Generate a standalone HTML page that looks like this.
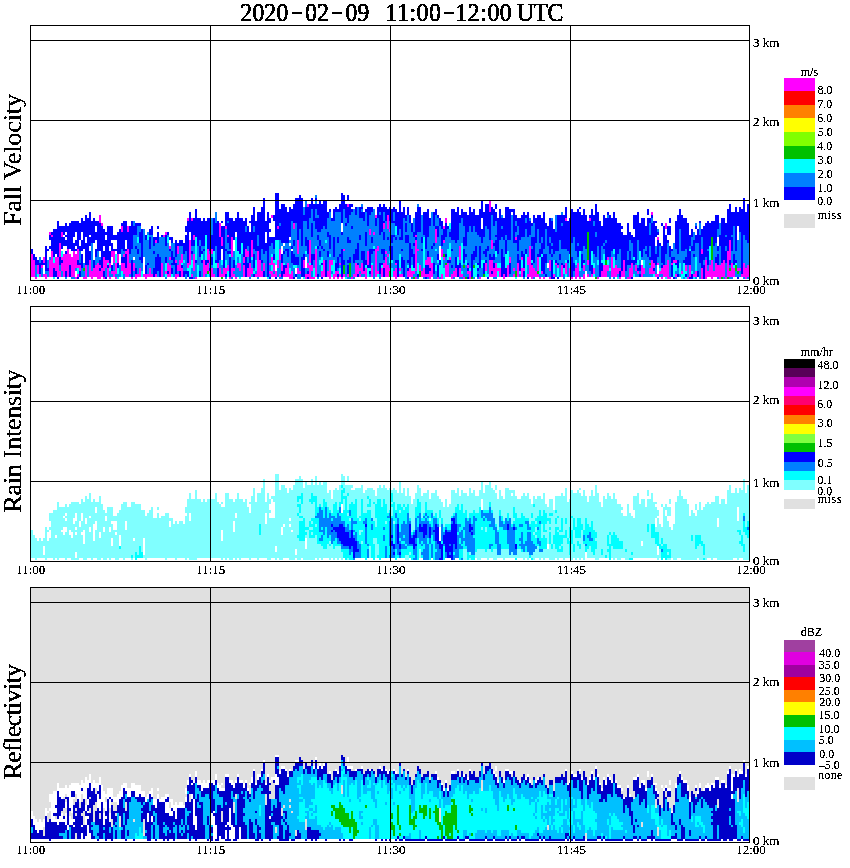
<!DOCTYPE html>
<html><head><meta charset="utf-8"><title>MRR 2020-02-09 11:00-12:00 UTC</title>
<style>
html,body{margin:0;padding:0;background:#fff;}
body{width:850px;height:868px;position:relative;overflow:hidden;font-family:"Liberation Serif",serif;color:#000;}
svg{position:absolute;left:0;top:0;}
#tx{position:absolute;left:0;top:0;width:850px;height:868px;}
.t{position:absolute;white-space:pre;line-height:1;margin:0;padding:0;}
.s{font-size:12px;filter:url(#thr2);}
.a{font-size:13px;filter:url(#thr2);}
.ttl{filter:url(#thr);font-size:24px;transform-origin:0 83.75%;transform:scaleY(1.05);-webkit-text-stroke:0.35px #000;}
.dash{position:absolute;top:12px;width:10px;height:2.4px;background:#000;}
.yl{filter:url(#thr);font-size:26px;transform-origin:0 0;transform:rotate(-90deg) translateX(-50%);-webkit-text-stroke:0.1px #000;}
.i{display:inline-block;}

</style></head><body>
<svg width="850" height="868" viewBox="0 0 850 868" shape-rendering="crispEdges">
<rect x="31" y="588" width="718" height="253" fill="#e0e0e0"/>
<rect x="31" y="841" width="718" height="1" fill="#fff"/>
<g>
<path fill="#ff00ff" d="M31 254h2v23h-2zm2 6h2v17h-2zm2 17h2v2h-2zm2 -12h2v9h-2zm2 9h2v3h-2zm2 -9h2v3h-2zm2 9h2v3h-2zm0 -17h2v6h-2zm2 17h2v5h-2zm4 -14h2v17h-2zm0 -28h2v3h-2zm2 19h2v26h-2zm0 -16h2v2h-2zm2 28h2v5h-2zm2 -6h2v14h-2zm2 0h2v20h-2zm2 14h2v6h-2zm0 -28h2v14h-2zm2 20h2v8h-2zm0 -6h2v3h-2zm0 -25h2v5h-2zm2 22h2v23h-2zm2 0h2v17h-2zm2 -5h2v28h-2zm2 5h2v11h-2zm2 3h2v20h-2zm2 -6h2v26h-2zm2 26h2v2h-2zm0 -23h2v14h-2zm2 20h2v3h-2zm0 -9h2v3h-2zm0 -16h2v11h-2zm2 16h2v6h-2zm4 12h2v2h-2zm2 -12h2v14h-2zm4 -5h2v17h-2zm2 11h2v8h-2zm2 -3h2v9h-2zm2 -3h2v12h-2zm2 -2h2v16h-2zm2 8h2v8h-2zm0 -6h2v3h-2zm0 -50h2v8h-2zm2 53h2v9h-2zm0 -45h2v3h-2zm2 54h2v2h-2zm0 -20h2v14h-2zm2 3h2v8h-2zm2 8h2v9h-2zm0 -8h2v3h-2zm2 17h2v2h-2zm0 -14h2v5h-2zm2 8h2v3h-2zm0 -20h2v6h-2zm2 20h2v6h-2zm0 -20h2v12h-2zm2 26h2v2h-2zm0 -14h2v11h-2zm2 -9h2v9h-2zm4 9h2v8h-2zm0 -37h2v6h-2zm2 37h2v11h-2zm0 -9h2v3h-2zm2 14h2v9h-2zm0 -17h2v3h-2zm2 -2h2v28h-2zm0 -23h2v6h-2zm2 37h2v11h-2zm2 14h2v2h-2zm2 -14h2v8h-2zm2 11h2v5h-2zm2 0h2v3h-2zm2 -6h2v9h-2zm4 6h2v3h-2zm2 0h2v5h-2zm2 0h2v3h-2zm2 -6h2v9h-2zm2 6h2v3h-2zm4 0h2v3h-2zm0 -34h2v3h-2zm6 23h2v14h-2zm2 -28h2v2h-2zm2 36h2v3h-2zm0 -39h2v3h-2zm2 42h2v3h-2zm0 -11h2v8h-2zm2 2h2v12h-2zm0 -8h2v3h-2zm0 -11h2v3h-2zm6 28h2v5h-2zm0 -14h2v3h-2zm2 14h2v3h-2zm0 -9h2v6h-2zm0 -19h2v8h-2zm2 14h2v11h-2zm2 8h2v9h-2zm0 -14h2v9h-2zm6 9h2v5h-2zm0 -45h2v3h-2zm2 22h2v25h-2zm2 34h2v3h-2zm0 -56h2v3h-2zm2 36h2v17h-2zm0 -19h2v5h-2zm2 42h2v2h-2zm8 -17h2v17h-2zm2 5h2v9h-2zm2 -2h2v8h-2zm0 -14h2v11h-2zm2 22h2v3h-2zm0 -17h2v9h-2zm2 14h2v9h-2zm0 -19h2v5h-2zm2 25h2v3h-2zm4 -11h2v5h-2zm2 5h2v9h-2zm0 -45h2v14h-2zm2 51h2v3h-2zm0 -37h2v9h-2zm2 31h2v9h-2zm2 0h2v6h-2zm0 -42h2v3h-2zm2 39h2v6h-2zm0 -30h2v2h-2zm2 42h2v2h-2zm2 -9h2v9h-2zm0 -31h2v20h-2zm2 37h2v3h-2zm0 -6h2v3h-2zm2 9h2v2h-2zm2 -14h2v5h-2zm2 0h2v8h-2zm4 2h2v12h-2zm0 -8h2v6h-2zm2 -8h2v8h-2zm2 19h2v9h-2zm0 -17h2v6h-2zm2 12h2v14h-2zm2 5h2v6h-2zm0 -28h2v17h-2zm4 34h2v3h-2zm2 -23h2v26h-2zm2 9h2v17h-2zm2 11h2v6h-2zm2 -8h2v8h-2zm6 8h2v3h-2zm0 -8h2v2h-2zm2 8h2v6h-2zm0 -14h2v8h-2zm0 -42h2v3h-2zm2 59h2v3h-2zm0 -11h2v8h-2zm2 8h2v6h-2zm2 -11h2v8h-2zm0 -34h2v3h-2zm2 48h2v3h-2zm0 -25h2v11h-2zm2 14h2v8h-2zm2 11h2v3h-2zm2 -6h2v9h-2zm2 -5h2v14h-2zm2 11h2v5h-2zm2 -3h2v8h-2zm2 -48h2v6h-2zm4 45h2v6h-2zm0 -28h2v14h-2zm2 31h2v3h-2zm4 -11h2v8h-2zm2 14h2v5h-2zm2 0h2v3h-2zm0 -11h2v5h-2zm0 -59h2v3h-2zm2 61h2v14h-2zm0 -25h2v23h-2zm2 37h2v2h-2zm0 -12h2v6h-2zm2 12h2v2h-2zm2 -28h2v28h-2zm6 22h2v6h-2zm2 -11h2v17h-2zm4 11h2v6h-2zm2 -11h2v19h-2zm2 0h2v5h-2zm2 14h2v5h-2zm2 -3h2v6h-2zm2 6h2v2h-2zm0 -6h2v3h-2zm2 3h2v3h-2zm0 -11h2v2h-2zm2 14h2v2h-2zm2 -3h2v3h-2zm0 -25h2v2h-2zm4 25h2v3h-2zm0 -70h2v3h-2zm4 73h2v2h-2zm2 -3h2v3h-2zm2 -11h2v14h-2zm2 2h2v9h-2zm2 9h2v3h-2zm0 -6h2v3h-2zm2 -5h2v11h-2zm2 8h2v3h-2zm2 -3h2v11h-2zm2 -17h2v14h-2zm2 -22h2v6h-2zm2 36h2v12h-2zm2 -33h2v3h-2zm2 17h2v28h-2zm0 -34h2v3h-2zm2 56h2v3h-2zm0 -25h2v5h-2zm4 22h2v9h-2zm2 -5h2v5h-2zm0 -40h2v6h-2zm2 34h2v20h-2zm0 -6h2v3h-2zm2 14h2v12h-2zm0 -11h2v3h-2zm0 -39h2v14h-2zm2 53h2v3h-2zm0 -39h2v3h-2zm4 42h2v6h-2zm2 -3h2v11h-2zm0 -5h2v2h-2zm4 11h2v3h-2zm0 -6h2v3h-2zm2 6h2v3h-2zm6 -3h2v6h-2zm2 -3h2v9h-2zm2 3h2v6h-2zm2 0h2v3h-2zm2 6h2v2h-2zm0 -37h2v31h-2zm0 -5h2v2h-2zm2 14h2v2h-2zm2 16h2v6h-2zm2 6h2v6h-2zm2 -3h2v9h-2zm2 6h2v3h-2zm0 -14h2v5h-2zm2 14h2v3h-2zm0 -17h2v8h-2zm2 14h2v8h-2zm0 -14h2v11h-2zm2 6h2v14h-2zm4 -34h2v14h-2zm2 48h2v2h-2zm4 -3h2v5h-2zm0 -25h2v8h-2zm2 8h2v3h-2zm0 -17h2v3h-2zm0 -14h2v3h-2zm2 39h2v12h-2zm0 -47h2v5h-2zm2 45h2v14h-2zm2 -6h2v3h-2zm2 17h2v5h-2zm2 -3h2v6h-2zm2 -3h2v9h-2zm4 0h2v9h-2zm0 -22h2v14h-2zm2 28h2v3h-2zm2 3h2v2h-2zm4 -6h2v3h-2zm0 -6h2v3h-2zm2 6h2v8h-2zm10 6h2v2h-2zm6 -14h2v8h-2zm4 -3h2v17h-2zm0 -59h2v11h-2zm2 73h2v3h-2zm0 -14h2v11h-2zm0 -20h2v9h-2zm2 28h2v9h-2zm2 -5h2v14h-2zm2 5h2v3h-2zm2 0h2v9h-2zm4 6h2v5h-2zm4 -9h2v12h-2zm2 -8h2v6h-2zm4 17h2v3h-2zm0 -6h2v3h-2zm2 -31h2v3h-2zm2 26h2v14h-2zm4 5h2v9h-2zm0 -11h2v3h-2zm2 11h2v3h-2zm4 6h2v3h-2zm0 -17h2v8h-2zm2 -11h2v31h-2zm2 19h2v14h-2zm2 3h2v9h-2zm2 3h2v6h-2zm2 3h2v3h-2zm0 -17h2v14h-2zm2 20h2v2h-2zm2 -6h2v3h-2zm2 6h2v2h-2zm6 0h2v2h-2zm0 -17h2v11h-2zm4 14h2v3h-2zm2 -11h2v2h-2zm2 2h2v3h-2zm4 0h2v12h-2zm4 -2h2v11h-2zm0 -45h2v3h-2zm4 50h2v9h-2zm2 9h2v2h-2zm4 -9h2v11h-2zm2 -5h2v14h-2zm2 14h2v2h-2zm4 -3h2v5h-2zm0 -9h2v6h-2zm4 9h2v3h-2zm0 -14h2v5h-2zm2 -42h2v3h-2zm2 56h2v3h-2zm2 -6h2v6h-2zm4 9h2v2h-2zm4 -6h2v6h-2zm2 -6h2v12h-2zm2 0h2v12h-2zm2 0h2v6h-2zm0 -8h2v3h-2zm4 0h2v20h-2zm2 11h2v9h-2zm2 -3h2v12h-2zm2 3h2v6h-2zm2 9h2v2h-2zm0 -9h2v3h-2zm2 3h2v6h-2zm2 -11h2v17h-2zm4 17h2v2h-2zm2 -9h2v11h-2zm2 -5h2v14h-2zm4 2h2v6h-2zm2 6h2v3h-2zm4 -6h2v12h-2zm2 3h2v6h-2zm6 0h2v6h-2zm2 -8h2v14h-2zm0 -48h2v3h-2zm2 59h2v3h-2zm0 -8h2v5h-2zm2 11h2v3h-2zm2 0h2v3h-2zm0 -11h2v2h-2zm0 -26h2v3h-2zm2 34h2v3h-2zm2 6h2v2h-2zm0 -9h2v6h-2zm2 -3h2v12h-2zm2 0h2v12h-2zm0 -42h2v6h-2zm2 37h2v19h-2zm2 17h2v2h-2zm2 -14h2v2h-2zm2 -3h2v3h-2zm2 14h2v3h-2zm0 -14h2v3h-2zm6 11h2v3h-2zm4 -6h2v6h-2zm2 12h2v2h-2zm2 -12h2v12h-2zm4 9h2v3h-2zm2 -3h2v6h-2zm6 -3h2v11h-2zm0 -19h2v5h-2zm4 11h2v19h-2zm2 11h2v6h-2zm2 -6h2v12h-2zm2 -5h2v19h-2zm2 11h2v6h-2zm2 -8h2v14h-2zm2 2h2v12h-2zm2 0h2v14h-2zm2 -2h2v14h-2zm2 -3h2v17h-2zm2 17h2v2h-2zm2 -26h2v26h-2zm2 20h2v6h-2zm0 -31h2v20h-2zm2 23h2v14h-2zm2 5h2v9h-2zm4 0h2v3h-2zm2 0h2v3h-2zm2 6h2v3h-2zm2 -11h2v14h-2zm2 5h2v11h-2zm2 -3h2v12h-2z"/>
<path fill="#0000ff" d="M31 249h2v5h-2zm2 5h2v6h-2zm2 3h2v8h-2zm2 3h2v5h-2zm2 3h2v11h-2zm2 -3h2v5h-2zm2 3h2v2h-2zm2 -17h2v25h-2zm2 22h2v3h-2zm0 -19h2v2h-2zm2 -3h2v3h-2zm0 -11h2v5h-2zm2 2h2v14h-2zm0 -5h2v3h-2zm2 36h2v9h-2zm0 -39h2v28h-2zm2 42h2v6h-2zm0 -42h2v25h-2zm2 48h2v2h-2zm0 -56h2v36h-2zm2 36h2v8h-2zm0 -31h2v17h-2zm2 34h2v3h-2zm0 -23h2v12h-2zm0 -11h2v6h-2zm2 11h2v9h-2zm0 -11h2v9h-2zm2 45h2v6h-2zm0 -20h2v3h-2zm0 -11h2v6h-2zm0 -5h2v2h-2zm0 -12h2v9h-2zm2 3h2v23h-2zm2 39h2v12h-2zm0 -42h2v26h-2zm2 -2h2v30h-2zm2 22h2v8h-2zm0 -22h2v16h-2zm2 28h2v2h-2zm0 -9h2v6h-2zm0 -19h2v11h-2zm2 56h2v2h-2zm0 -17h2v5h-2zm0 -39h2v28h-2zm2 50h2v6h-2zm0 -8h2v2h-2zm0 -17h2v5h-2zm0 -23h2v17h-2zm2 31h2v14h-2zm0 -14h2v11h-2zm0 -22h2v14h-2zm2 3h2v28h-2zm2 22h2v22h-2zm0 -28h2v22h-2zm2 3h2v47h-2zm2 33h2v9h-2zm0 -14h2v9h-2zm0 -25h2v23h-2zm2 9h2v22h-2zm2 39h2v8h-2zm0 -42h2v25h-2zm2 31h2v8h-2zm0 -17h2v8h-2zm0 -11h2v5h-2zm2 0h2v30h-2zm2 47h2v3h-2zm0 -8h2v5h-2zm0 -37h2v28h-2zm2 3h2v42h-2zm2 45h2v6h-2zm0 -20h2v6h-2zm0 -22h2v17h-2zm2 48h2v2h-2zm0 -37h2v20h-2zm0 -8h2v3h-2zm2 33h2v3h-2zm0 -39h2v34h-2zm2 25h2v12h-2zm0 -25h2v20h-2zm2 39h2v6h-2zm0 -22h2v8h-2zm0 -17h2v14h-2zm2 23h2v2h-2zm0 -14h2v5h-2zm2 14h2v2h-2zm0 -14h2v5h-2zm2 28h2v5h-2zm0 -31h2v22h-2zm2 -3h2v25h-2zm2 28h2v6h-2zm0 -25h2v17h-2zm0 -9h2v3h-2zm2 34h2v6h-2zm0 -36h2v30h-2zm2 33h2v14h-2zm0 -5h2v2h-2zm0 -28h2v19h-2zm2 11h2v17h-2zm2 -6h2v28h-2zm2 34h2v17h-2zm0 -39h2v28h-2zm2 5h2v9h-2zm2 42h2v6h-2zm0 -22h2v3h-2zm0 -23h2v12h-2zm2 26h2v5h-2zm0 -26h2v3h-2zm2 34h2v3h-2zm0 -25h2v11h-2zm0 -9h2v3h-2zm2 6h2v34h-2zm4 36h2v9h-2zm0 -30h2v5h-2zm2 28h2v2h-2zm2 -26h2v12h-2zm0 -8h2v6h-2zm2 -3h2v9h-2zm2 42h2v9h-2zm0 -17h2v3h-2zm0 -14h2v9h-2zm2 20h2v17h-2zm0 -20h2v3h-2zm2 17h2v17h-2zm0 -22h2v11h-2zm0 -6h2v3h-2zm2 31h2v20h-2zm2 -22h2v2h-2zm4 22h2v6h-2zm0 -22h2v11h-2zm2 36h2v3h-2zm0 -39h2v3h-2zm2 17h2v2h-2zm0 -12h2v3h-2zm2 31h2v6h-2zm0 -5h2v2h-2zm0 -12h2v9h-2zm0 -14h2v6h-2zm2 20h2v8h-2zm2 6h2v11h-2zm0 -23h2v17h-2zm2 3h2v3h-2zm2 28h2v6h-2zm0 -31h2v6h-2zm2 25h2v3h-2zm0 -25h2v6h-2zm2 31h2v6h-2zm0 -28h2v11h-2zm2 28h2v3h-2zm0 -36h2v16h-2zm0 -9h2v6h-2zm2 45h2v6h-2zm0 -50h2v42h-2zm2 56h2v2h-2zm0 -65h2v20h-2zm2 65h2v2h-2zm0 -26h2v3h-2zm0 -30h2v25h-2zm2 19h2v6h-2zm0 -22h2v17h-2zm2 42h2v3h-2zm0 -51h2v28h-2zm2 9h2v28h-2zm2 53h2v6h-2zm0 -25h2v11h-2zm0 -28h2v22h-2zm2 42h2v3h-2zm0 -9h2v3h-2zm0 -30h2v25h-2zm2 28h2v2h-2zm0 -31h2v28h-2zm2 42h2v5h-2zm0 -39h2v14h-2zm2 39h2v3h-2zm0 -42h2v31h-2zm2 50h2v3h-2zm0 -50h2v33h-2zm2 39h2v8h-2zm0 -22h2v14h-2zm2 -17h2v33h-2zm2 42h2v3h-2zm0 -37h2v23h-2zm2 45h2v9h-2zm0 -47h2v42h-2zm2 16h2v23h-2zm2 9h2v3h-2zm0 -20h2v11h-2zm0 -5h2v2h-2zm2 5h2v42h-2zm2 48h2v3h-2zm0 -25h2v2h-2zm0 -37h2v14h-2zm2 39h2v3h-2zm0 -14h2v6h-2zm0 -14h2v12h-2zm0 -11h2v9h-2zm2 45h2v20h-2zm0 -6h2v3h-2zm0 -33h2v31h-2zm2 0h2v19h-2zm2 42h2v8h-2zm0 -39h2v19h-2zm2 -3h2v14h-2zm2 -6h2v39h-2zm2 6h2v36h-2zm2 0h2v25h-2zm2 45h2v2h-2zm0 -42h2v36h-2zm2 36h2v20h-2zm0 -25h2v17h-2zm0 -14h2v8h-2zm2 45h2v5h-2zm0 -37h2v20h-2zm2 6h2v31h-2zm0 -11h2v2h-2zm2 -6h2v25h-2zm2 59h2v3h-2zm0 -20h2v14h-2zm0 -22h2v17h-2zm0 -25h2v19h-2zm2 14h2v30h-2zm2 25h2v5h-2zm0 -34h2v23h-2zm2 0h2v48h-2zm2 48h2v3h-2zm0 -53h2v42h-2zm2 64h2v6h-2zm0 -73h2v56h-2zm2 45h2v8h-2zm0 -22h2v11h-2zm2 -9h2v65h-2zm2 65h2v2h-2zm0 -40h2v9h-2zm0 -8h2v3h-2zm0 -11h2v5h-2zm2 19h2v6h-2zm2 17h2v6h-2zm0 -17h2v12h-2zm0 -22h2v6h-2zm2 62h2v2h-2zm0 -84h2v47h-2zm2 36h2v11h-2zm0 -36h2v33h-2zm2 33h2v14h-2zm0 -17h2v14h-2zm2 62h2v6h-2zm0 -17h2v9h-2zm0 -50h2v39h-2zm2 61h2v9h-2zm0 -14h2v3h-2zm0 -47h2v39h-2zm2 61h2v3h-2zm0 -16h2v2h-2zm0 -42h2v36h-2zm2 42h2v8h-2zm0 -37h2v31h-2zm2 -5h2v30h-2zm2 44h2v12h-2zm0 -5h2v3h-2zm0 -37h2v12h-2zm2 68h2v2h-2zm0 -23h2v11h-2zm0 -14h2v6h-2zm0 -36h2v19h-2zm2 70h2v3h-2zm0 -17h2v8h-2zm0 -59h2v25h-2zm2 59h2v8h-2zm0 -59h2v42h-2zm2 -3h2v34h-2zm2 62h2v20h-2zm0 -59h2v48h-2zm2 70h2v9h-2zm0 -14h2v6h-2zm0 -39h2v6h-2zm2 22h2v9h-2zm0 -30h2v14h-2zm2 70h2v2h-2zm0 -6h2v3h-2zm0 -31h2v14h-2zm0 -33h2v22h-2zm2 -3h2v14h-2zm2 50h2v11h-2zm0 -31h2v14h-2zm0 -25h2v11h-2zm2 56h2v6h-2zm0 -50h2v17h-2zm2 14h2v11h-2zm0 -14h2v5h-2zm0 -6h2v3h-2zm2 76h2v3h-2zm0 -28h2v3h-2zm0 -11h2v5h-2zm0 -17h2v14h-2zm0 -14h2v11h-2zm2 47h2v6h-2zm0 -11h2v6h-2zm0 -39h2v31h-2zm2 76h2v2h-2zm0 -14h2v2h-2zm0 -17h2v3h-2zm0 -42h2v25h-2zm2 45h2v2h-2zm0 -48h2v25h-2zm2 59h2v17h-2zm0 -59h2v28h-2zm2 50h2v6h-2zm0 -19h2v5h-2zm0 -20h2v6h-2zm2 23h2v14h-2zm0 -26h2v3h-2zm2 9h2v3h-2zm2 19h2v20h-2zm0 -28h2v12h-2zm2 54h2v8h-2zm0 -56h2v5h-2zm2 67h2v3h-2zm0 -17h2v11h-2zm0 -20h2v6h-2zm0 -28h2v3h-2zm2 45h2v3h-2zm0 -50h2v8h-2zm2 45h2v28h-2zm0 -17h2v3h-2zm0 -39h2v30h-2zm2 67h2v5h-2zm0 -65h2v14h-2zm2 28h2v3h-2zm0 -19h2v14h-2zm2 61h2v9h-2zm0 -5h2v3h-2zm0 -23h2v6h-2zm0 -30h2v16h-2zm0 -12h2v6h-2zm2 62h2v6h-2zm0 -17h2v3h-2zm0 -36h2v11h-2zm2 22h2v3h-2zm0 -17h2v3h-2zm0 -5h2v3h-2zm2 50h2v9h-2zm2 -5h2v11h-2zm0 -42h2v8h-2zm2 67h2v3h-2zm0 -11h2v2h-2zm0 -20h2v17h-2zm2 -8h2v5h-2zm0 -28h2v11h-2zm2 44h2v9h-2zm0 -39h2v6h-2zm0 -5h2v2h-2zm2 44h2v20h-2zm0 -39h2v9h-2zm2 48h2v5h-2zm0 -28h2v14h-2zm0 -23h2v3h-2zm2 56h2v3h-2zm0 -58h2v19h-2zm2 64h2v3h-2zm0 -22h2v19h-2zm0 -42h2v8h-2zm2 42h2v5h-2zm0 -12h2v6h-2zm0 -30h2v5h-2zm2 42h2v2h-2zm2 -31h2v8h-2zm2 -11h2v11h-2zm2 56h2v11h-2zm0 -48h2v20h-2zm0 -11h2v8h-2zm2 59h2v2h-2zm0 -14h2v5h-2zm0 -42h2v25h-2zm2 61h2v9h-2zm0 -19h2v11h-2zm0 -17h2v8h-2zm0 -11h2v2h-2zm0 -17h2v8h-2zm2 3h2v14h-2zm2 30h2v3h-2zm0 -28h2v6h-2zm2 37h2v5h-2zm0 -39h2v14h-2zm2 39h2v14h-2zm0 -11h2v8h-2zm0 -26h2v14h-2zm2 26h2v2h-2zm0 -14h2v2h-2zm0 -14h2v5h-2zm2 53h2v3h-2zm0 -23h2v3h-2zm0 -28h2v17h-2zm2 51h2v17h-2zm0 -48h2v23h-2zm2 25h2v3h-2zm0 -36h2v28h-2zm2 56h2v11h-2zm0 -8h2v2h-2zm0 -37h2v28h-2zm2 48h2v17h-2zm0 -53h2v11h-2zm2 28h2v8h-2zm0 -12h2v9h-2zm0 -8h2v6h-2zm2 62h2v2h-2zm0 -9h2v3h-2zm0 -8h2v3h-2zm0 -25h2v8h-2zm0 -28h2v8h-2zm2 36h2v25h-2zm0 -28h2v8h-2zm2 34h2v8h-2zm0 -26h2v9h-2zm2 31h2v14h-2zm0 -11h2v3h-2zm0 -11h2v5h-2zm2 5h2v3h-2zm0 -25h2v23h-2zm2 62h2v3h-2zm0 -67h2v25h-2zm2 0h2v25h-2zm2 42h2v2h-2zm0 -12h2v6h-2zm2 -25h2v23h-2zm2 65h2v2h-2zm0 -12h2v9h-2zm0 -53h2v37h-2zm2 53h2v9h-2zm0 -14h2v6h-2zm0 -42h2v28h-2zm2 59h2v3h-2zm0 -50h2v8h-2zm2 28h2v3h-2zm2 17h2v11h-2zm0 -20h2v3h-2zm0 -31h2v14h-2zm2 14h2v3h-2zm0 -17h2v6h-2zm2 56h2v12h-2zm0 -11h2v6h-2zm0 -28h2v11h-2zm0 -11h2v3h-2zm2 45h2v5h-2zm0 -42h2v8h-2zm2 17h2v11h-2zm0 -14h2v8h-2zm2 8h2v11h-2zm2 25h2v3h-2zm0 -31h2v14h-2zm2 37h2v3h-2zm0 -34h2v3h-2zm2 34h2v3h-2zm0 -28h2v5h-2zm2 33h2v3h-2zm0 -16h2v2h-2zm0 -40h2v31h-2zm2 0h2v31h-2zm2 48h2v11h-2zm0 -45h2v31h-2zm2 53h2v12h-2zm0 -58h2v33h-2zm2 56h2v5h-2zm0 -48h2v8h-2zm2 -6h2v9h-2zm2 40h2v14h-2zm0 -12h2v9h-2zm0 -25h2v14h-2zm2 42h2v3h-2zm0 -42h2v34h-2zm2 65h2v2h-2zm0 -9h2v3h-2zm0 -5h2v2h-2zm0 -48h2v17h-2zm2 -8h2v19h-2zm2 47h2v23h-2zm0 -42h2v20h-2zm2 39h2v9h-2zm0 -42h2v17h-2zm2 37h2v11h-2zm0 -31h2v17h-2zm2 59h2v3h-2zm0 -6h2v3h-2zm0 -5h2v2h-2zm0 -48h2v20h-2zm2 31h2v22h-2zm0 -37h2v28h-2zm2 20h2v14h-2zm0 -28h2v17h-2zm2 62h2v11h-2zm0 -12h2v3h-2zm0 -39h2v25h-2zm2 48h2v3h-2zm0 -11h2v8h-2zm0 -45h2v22h-2zm2 73h2v2h-2zm0 -31h2v5h-2zm0 -42h2v25h-2zm2 50h2v6h-2zm0 -42h2v28h-2zm2 59h2v3h-2zm0 -14h2v3h-2zm0 -50h2v8h-2zm2 56h2v5h-2zm0 -9h2v6h-2zm0 -11h2v3h-2zm0 -34h2v17h-2zm2 31h2v11h-2zm0 -5h2v2h-2zm0 -23h2v9h-2zm0 -8h2v5h-2zm2 14h2v36h-2zm2 -9h2v31h-2zm2 40h2v28h-2zm0 -20h2v8h-2zm0 -11h2v8h-2zm2 39h2v17h-2zm0 -39h2v22h-2zm2 50h2v9h-2zm0 -28h2v14h-2zm0 -33h2v28h-2zm2 0h2v33h-2zm2 56h2v11h-2zm0 -54h2v31h-2zm2 0h2v3h-2zm2 0h2v34h-2zm2 31h2v3h-2zm0 -14h2v6h-2zm0 -11h2v6h-2zm2 39h2v9h-2zm0 -19h2v16h-2zm0 -17h2v8h-2zm2 42h2v11h-2zm0 -42h2v22h-2zm2 33h2v6h-2zm0 -36h2v22h-2zm2 56h2v6h-2zm0 -17h2v14h-2zm0 -42h2v25h-2zm2 37h2v5h-2zm0 -26h2v6h-2zm0 -8h2v3h-2zm2 62h2v2h-2zm0 -65h2v25h-2zm2 9h2v14h-2zm2 42h2v2h-2zm0 -14h2v11h-2zm0 -12h2v9h-2zm0 -14h2v3h-2zm2 14h2v26h-2zm0 -22h2v8h-2zm2 3h2v25h-2zm2 36h2v3h-2zm0 -39h2v14h-2zm2 34h2v8h-2zm0 -34h2v28h-2zm2 42h2v14h-2zm0 -14h2v11h-2zm0 -25h2v19h-2zm2 36h2v20h-2zm0 -42h2v37h-2zm2 62h2v3h-2zm0 -20h2v9h-2zm0 -31h2v6h-2zm2 3h2v20h-2zm2 17h2v11h-2zm0 -25h2v19h-2zm2 42h2v19h-2zm0 -6h2v3h-2zm0 -8h2v3h-2zm0 -25h2v22h-2zm2 56h2v2h-2zm0 -48h2v25h-2zm2 31h2v3h-2zm0 -28h2v19h-2zm2 45h2v2h-2zm0 -14h2v2h-2zm0 -48h2v36h-2zm2 39h2v6h-2zm0 -39h2v25h-2zm2 48h2v2h-2zm0 -37h2v23h-2zm0 -11h2v8h-2zm2 50h2v3h-2zm0 -50h2v34h-2zm2 6h2v28h-2zm0 -14h2v11h-2zm2 53h2v3h-2zm0 -39h2v30h-2zm2 -3h2v36h-2zm2 39h2v20h-2zm0 -48h2v34h-2zm2 54h2v8h-2zm0 -51h2v25h-2zm2 0h2v39h-2zm2 34h2v11h-2zm0 -37h2v34h-2zm2 3h2v39h-2zm0 -5h2v2h-2zm2 47h2v14h-2zm0 -39h2v36h-2zm2 45h2v3h-2zm0 -51h2v37h-2zm2 6h2v34h-2zm2 6h2v11h-2zm2 0h2v50h-2zm0 -6h2v3h-2zm2 50h2v9h-2zm0 -56h2v42h-2zm2 17h2v28h-2zm0 -11h2v6h-2zm2 22h2v20h-2zm0 -33h2v28h-2zm2 8h2v34h-2zm2 9h2v56h-2zm2 42h2v8h-2zm0 -37h2v20h-2zm2 20h2v3h-2zm0 -31h2v28h-2zm2 28h2v17h-2zm0 -25h2v22h-2zm2 0h2v39h-2zm0 -6h2v3h-2zm2 3h2v42h-2zm2 3h2v33h-2zm2 -6h2v37h-2zm2 6h2v42h-2zm2 5h2v31h-2zm2 48h2v6h-2zm0 -48h2v26h-2zm2 9h2v39h-2zm0 -6h2v3h-2zm2 9h2v25h-2zm2 0h2v36h-2zm2 25h2v5h-2zm0 -37h2v28h-2zm2 28h2v14h-2zm0 -19h2v8h-2zm2 45h2v2h-2zm0 -17h2v3h-2zm0 -25h2v8h-2zm2 25h2v5h-2zm0 -23h2v20h-2zm0 -22h2v14h-2zm2 0h2v48h-2zm2 53h2v3h-2zm0 -56h2v28h-2zm2 62h2v3h-2zm0 -9h2v6h-2zm0 -42h2v28h-2zm2 -5h2v39h-2zm2 0h2v31h-2zm2 33h2v3h-2zm0 -25h2v20h-2zm2 -8h2v39h-2zm0 -9h2v6h-2zm2 48h2v3h-2zm0 -22h2v11h-2zm0 -17h2v5h-2zm2 5h2v37h-2zm0 -8h2v3h-2zm2 53h2v3h-2zm0 -47h2v42h-2zm2 33h2v11h-2zm0 -28h2v11h-2zm0 -5h2v2h-2zm2 56h2v2h-2zm0 -37h2v17h-2zm0 -8h2v3h-2zm2 11h2v3h-2zm2 22h2v3h-2zm0 -19h2v17h-2zm0 -23h2v3h-2zm2 3h2v39h-2zm2 9h2v19h-2zm2 5h2v3h-2zm0 -14h2v9h-2zm2 20h2v11h-2zm0 -20h2v9h-2zm0 -8h2v5h-2zm2 47h2v12h-2zm0 -8h2v6h-2zm0 -8h2v2h-2zm2 28h2v2h-2zm0 -20h2v3h-2zm2 6h2v2h-2zm0 -42h2v28h-2zm2 53h2v3h-2zm0 -14h2v8h-2zm0 -45h2v39h-2zm2 -6h2v20h-2zm2 6h2v36h-2zm2 45h2v3h-2zm0 -42h2v33h-2zm2 56h2v3h-2zm0 -17h2v8h-2zm0 -39h2v31h-2zm2 5h2v42h-2zm2 54h2v2h-2zm0 -26h2v14h-2zm0 -16h2v11h-2zm2 39h2v5h-2zm0 -28h2v5h-2zm0 -17h2v8h-2zm2 25h2v3h-2zm0 -14h2v11h-2zm2 -5h2v8h-2zm0 -9h2v3h-2zm2 45h2v6h-2zm0 -42h2v14h-2zm2 6h2v28h-2zm0 -14h2v2h-2zm2 33h2v14h-2zm0 -25h2v8h-2zm2 36h2v14h-2zm0 -39h2v34h-2zm2 -3h2v34h-2zm2 28h2v14h-2zm0 -30h2v28h-2zm2 2h2v23h-2zm2 -2h2v16h-2zm2 0h2v25h-2zm2 36h2v6h-2zm0 -42h2v28h-2zm2 39h2v11h-2zm0 -8h2v5h-2zm0 -31h2v14h-2zm2 20h2v11h-2zm2 -17h2v45h-2zm2 0h2v42h-2zm2 33h2v12h-2zm0 -14h2v9h-2zm0 -14h2v12h-2zm2 -14h2v42h-2zm2 51h2v5h-2zm0 -56h2v36h-2zm2 33h2v14h-2zm0 -25h2v23h-2zm2 42h2v11h-2zm0 -42h2v14h-2zm2 48h2v3h-2zm0 -53h2v44h-2zm2 70h2v2h-2zm0 -65h2v14h-2zm2 -5h2v25h-2zm2 2h2v65h-2zm2 -11h2v37h-2zm2 14h2v28h-2zm2 -8h2v39h-2z"/>
<path fill="#0080ff" d="M35 265h2v12h-2zm4 -8h2v6h-2zm2 11h2v9h-2zm4 3h2v3h-2zm2 0h2v6h-2zm0 -11h2v8h-2zm2 -3h2v3h-2zm10 8h2v6h-2zm2 6h2v6h-2zm4 6h2v2h-2zm6 0h2v2h-2zm2 0h2v2h-2zm2 -9h2v3h-2zm4 -17h2v12h-2zm2 17h2v9h-2zm2 3h2v6h-2zm0 -8h2v5h-2zm4 2h2v12h-2zm4 -22h2v28h-2zm4 14h2v8h-2zm2 -6h2v12h-2zm2 6h2v3h-2zm6 11h2v9h-2zm4 3h2v6h-2zm2 3h2v3h-2zm2 -11h2v8h-2zm2 11h2v3h-2zm2 0h2v3h-2zm2 -9h2v12h-2zm2 -16h2v8h-2zm2 25h2v5h-2zm0 -23h2v3h-2zm6 23h2v3h-2zm0 -20h2v9h-2zm2 -5h2v11h-2zm2 22h2v6h-2zm0 -11h2v3h-2zm0 -25h2v22h-2zm0 -14h2v5h-2zm2 28h2v19h-2zm0 -14h2v11h-2zm2 19h2v20h-2zm0 -11h2v6h-2zm0 -17h2v11h-2zm2 34h2v8h-2zm0 -17h2v14h-2zm0 -17h2v6h-2zm2 37h2v8h-2zm2 -34h2v28h-2zm2 11h2v25h-2zm2 25h2v9h-2zm0 -25h2v23h-2zm0 -8h2v3h-2zm2 17h2v19h-2zm0 -14h2v2h-2zm2 0h2v39h-2zm2 19h2v14h-2zm0 -8h2v5h-2zm2 -3h2v14h-2zm2 28h2v6h-2zm0 -28h2v11h-2zm2 -6h2v20h-2zm2 0h2v26h-2zm2 0h2v40h-2zm2 40h2v2h-2zm0 -31h2v11h-2zm2 -3h2v20h-2zm0 -8h2v2h-2zm2 25h2v5h-2zm0 -9h2v6h-2zm2 14h2v3h-2zm0 -5h2v3h-2zm0 -17h2v8h-2zm2 22h2v12h-2zm0 -22h2v14h-2zm2 14h2v3h-2zm2 14h2v3h-2zm0 -17h2v11h-2zm2 -8h2v14h-2zm2 0h2v8h-2zm2 17h2v8h-2zm0 -9h2v6h-2zm2 20h2v5h-2zm0 -23h2v20h-2zm6 17h2v6h-2zm0 -14h2v6h-2zm0 -8h2v5h-2zm2 25h2v8h-2zm0 -25h2v8h-2zm2 17h2v14h-2zm2 -17h2v19h-2zm2 11h2v14h-2zm0 -17h2v6h-2zm2 23h2v14h-2zm0 -17h2v5h-2zm2 5h2v9h-2zm0 -5h2v3h-2zm2 28h2v3h-2zm4 0h2v3h-2zm0 -11h2v5h-2zm0 -12h2v3h-2zm2 14h2v3h-2zm0 -11h2v3h-2zm0 -36h2v17h-2zm2 50h2v6h-2zm2 0h2v9h-2zm0 -22h2v14h-2zm0 -34h2v11h-2zm4 48h2v8h-2zm2 5h2v9h-2zm4 12h2v2h-2zm0 -26h2v9h-2zm0 -22h2v20h-2zm2 25h2v11h-2zm0 -11h2v8h-2zm0 -22h2v2h-2zm2 28h2v2h-2zm2 28h2v2h-2zm0 -20h2v11h-2zm2 14h2v3h-2zm0 -20h2v9h-2zm2 14h2v12h-2zm2 3h2v9h-2zm0 -11h2v6h-2zm2 14h2v6h-2zm2 -17h2v23h-2zm4 -28h2v6h-2zm2 31h2v6h-2zm0 -11h2v5h-2zm2 31h2v2h-2zm2 -3h2v3h-2zm0 -14h2v8h-2zm2 8h2v3h-2zm0 -19h2v5h-2zm0 -23h2v6h-2zm2 45h2v3h-2zm0 -20h2v9h-2zm2 26h2v2h-2zm0 -42h2v11h-2zm4 28h2v8h-2zm0 -14h2v11h-2zm2 5h2v9h-2zm2 -3h2v26h-2zm4 23h2v3h-2zm0 -9h2v6h-2zm0 -19h2v17h-2zm2 -3h2v11h-2zm2 28h2v3h-2zm0 -22h2v5h-2zm4 19h2v9h-2zm2 9h2v2h-2zm0 -17h2v14h-2zm0 -20h2v9h-2zm0 -17h2v3h-2zm2 54h2v2h-2zm0 -34h2v3h-2zm2 11h2v9h-2zm0 -8h2v5h-2zm2 5h2v14h-2zm0 -8h2v6h-2zm2 14h2v6h-2zm0 -14h2v6h-2zm2 3h2v22h-2zm0 -6h2v3h-2zm2 23h2v8h-2zm0 -42h2v25h-2zm2 47h2v9h-2zm0 -22h2v8h-2zm0 -17h2v11h-2zm2 -6h2v34h-2zm2 51h2v5h-2zm0 -9h2v3h-2zm0 -11h2v3h-2zm2 20h2v5h-2zm0 -45h2v42h-2zm2 17h2v11h-2zm2 -25h2v33h-2zm0 -14h2v8h-2zm2 61h2v6h-2zm0 -14h2v3h-2zm0 -8h2v5h-2zm0 -25h2v16h-2zm0 -20h2v6h-2zm2 67h2v3h-2zm0 -14h2v9h-2zm0 -25h2v11h-2zm2 -11h2v22h-2zm2 53h2v6h-2zm0 -34h2v17h-2zm0 -28h2v14h-2zm2 51h2v8h-2zm0 -39h2v33h-2zm2 8h2v17h-2zm0 -20h2v9h-2zm0 -8h2v3h-2zm0 -6h2v3h-2zm2 82h2v2h-2zm0 -28h2v25h-2zm0 -9h2v6h-2zm0 -8h2v3h-2zm0 -17h2v3h-2zm2 50h2v12h-2zm0 -8h2v3h-2zm0 -11h2v5h-2zm0 -14h2v8h-2zm2 17h2v8h-2zm0 -20h2v17h-2zm2 22h2v9h-2zm0 -25h2v23h-2zm2 17h2v17h-2zm0 -14h2v11h-2zm2 28h2v14h-2zm0 -20h2v14h-2zm0 -19h2v14h-2zm2 39h2v3h-2zm0 -8h2v5h-2zm0 -37h2v23h-2zm2 59h2v3h-2zm0 -50h2v39h-2zm2 36h2v3h-2zm0 -36h2v16h-2zm2 -9h2v51h-2zm2 56h2v3h-2zm0 -25h2v14h-2zm0 -31h2v25h-2zm2 53h2v3h-2zm0 -8h2v6h-2zm0 -45h2v42h-2zm2 23h2v14h-2zm2 16h2v9h-2zm0 -42h2v40h-2zm2 17h2v51h-2zm0 -8h2v5h-2zm2 59h2v2h-2zm0 -14h2v2h-2zm0 -20h2v17h-2zm0 -20h2v14h-2zm2 54h2v2h-2zm0 -34h2v14h-2zm0 -28h2v25h-2zm2 14h2v48h-2zm0 -17h2v14h-2zm2 65h2v2h-2zm0 -14h2v11h-2zm0 -54h2v45h-2zm2 51h2v3h-2zm0 -45h2v34h-2zm2 45h2v3h-2zm0 -53h2v36h-2zm2 64h2v3h-2zm0 -31h2v28h-2zm0 -22h2v17h-2zm2 56h2v3h-2zm0 -14h2v3h-2zm0 -42h2v33h-2zm0 -9h2v3h-2zm0 -5h2v3h-2zm2 70h2v3h-2zm0 -53h2v30h-2zm2 25h2v14h-2zm0 -34h2v20h-2zm2 14h2v25h-2zm2 48h2v3h-2zm0 -39h2v14h-2zm0 -20h2v14h-2zm2 39h2v9h-2zm0 -11h2v6h-2zm0 -31h2v25h-2zm2 39h2v28h-2zm0 -16h2v11h-2zm0 -26h2v23h-2zm2 17h2v23h-2zm2 25h2v20h-2zm0 -33h2v28h-2zm2 56h2v5h-2zm0 -39h2v28h-2zm0 -23h2v3h-2zm2 42h2v9h-2zm0 -22h2v17h-2zm2 28h2v3h-2zm0 -20h2v9h-2zm0 -11h2v3h-2zm0 -17h2v9h-2zm2 42h2v3h-2zm0 -33h2v30h-2zm2 36h2v8h-2zm0 -17h2v14h-2zm0 -11h2v8h-2zm2 34h2v5h-2zm0 -12h2v3h-2zm0 -19h2v14h-2zm0 -11h2v8h-2zm2 42h2v5h-2zm0 -20h2v3h-2zm0 -20h2v12h-2zm2 14h2v34h-2zm0 -14h2v12h-2zm0 -11h2v9h-2zm2 53h2v3h-2zm0 -25h2v20h-2zm0 -5h2v2h-2zm2 0h2v25h-2zm2 5h2v14h-2zm0 -11h2v8h-2zm2 39h2v6h-2zm0 -17h2v6h-2zm0 -11h2v9h-2zm2 -22h2v42h-2zm2 25h2v36h-2zm0 -11h2v3h-2zm0 -11h2v2h-2zm2 42h2v2h-2zm0 -20h2v17h-2zm0 -28h2v20h-2zm2 8h2v20h-2zm2 54h2v2h-2zm0 -20h2v8h-2zm0 -25h2v17h-2zm2 42h2v3h-2zm0 -28h2v8h-2zm0 -9h2v6h-2zm0 -19h2v14h-2zm2 53h2v6h-2zm2 6h2v2h-2zm0 -26h2v12h-2zm0 -19h2v17h-2zm0 -28h2v3h-2zm2 28h2v33h-2zm2 19h2v20h-2zm0 -8h2v6h-2zm0 -28h2v22h-2zm2 62h2v2h-2zm0 -42h2v2h-2zm2 14h2v11h-2zm2 28h2v2h-2zm0 -40h2v14h-2zm2 -11h2v31h-2zm2 23h2v8h-2zm0 -37h2v34h-2zm2 62h2v5h-2zm0 -28h2v17h-2zm0 -20h2v17h-2zm2 45h2v8h-2zm0 -20h2v14h-2zm0 -8h2v6h-2zm0 -28h2v11h-2zm2 48h2v2h-2zm0 -26h2v17h-2zm0 -19h2v8h-2zm2 59h2v2h-2zm0 -51h2v20h-2zm2 20h2v3h-2zm0 -17h2v6h-2zm2 31h2v8h-2zm0 -17h2v11h-2zm2 14h2v6h-2zm0 -20h2v17h-2zm2 -8h2v20h-2zm2 34h2v14h-2zm0 -26h2v6h-2zm0 -8h2v3h-2zm2 39h2v6h-2zm0 -17h2v14h-2zm0 -11h2v9h-2zm2 37h2v2h-2zm0 -37h2v31h-2zm2 3h2v14h-2zm2 -3h2v17h-2zm2 37h2v2h-2zm0 -17h2v3h-2zm0 -37h2v23h-2zm2 54h2v2h-2zm0 -12h2v6h-2zm0 -47h2v25h-2zm2 50h2v9h-2zm0 -5h2v2h-2zm0 -17h2v3h-2zm0 -20h2v11h-2zm2 39h2v12h-2zm0 -8h2v3h-2zm0 -11h2v8h-2zm2 28h2v3h-2zm0 -42h2v31h-2zm2 -6h2v42h-2zm2 6h2v22h-2zm2 45h2v2h-2zm0 -17h2v5h-2zm0 -34h2v25h-2zm2 31h2v6h-2zm0 -25h2v14h-2zm2 45h2v2h-2zm0 -6h2v3h-2zm0 -36h2v28h-2zm2 33h2v9h-2zm0 -31h2v9h-2zm2 31h2v9h-2zm0 -25h2v17h-2zm2 11h2v6h-2zm0 -17h2v14h-2zm2 20h2v3h-2zm0 -31h2v23h-2zm2 25h2v23h-2zm0 -22h2v17h-2zm2 11h2v14h-2zm2 9h2v8h-2zm0 -34h2v25h-2zm2 62h2v2h-2zm0 -17h2v3h-2zm0 -14h2v8h-2zm0 -20h2v17h-2zm2 51h2v2h-2zm0 -20h2v6h-2zm0 -20h2v3h-2zm0 -16h2v14h-2zm2 33h2v9h-2zm2 -14h2v23h-2zm2 -3h2v12h-2zm0 -11h2v3h-2zm0 -11h2v3h-2zm2 25h2v17h-2zm2 -5h2v5h-2zm2 5h2v11h-2zm2 34h2v3h-2zm0 -34h2v17h-2zm2 -25h2v62h-2zm2 56h2v3h-2zm0 -28h2v25h-2zm2 0h2v28h-2zm0 -11h2v5h-2zm0 -11h2v5h-2zm2 30h2v3h-2zm0 -25h2v9h-2zm2 48h2v3h-2zm0 -34h2v20h-2zm2 -3h2v14h-2zm2 40h2v2h-2zm0 -40h2v17h-2zm2 -8h2v20h-2zm0 -11h2v5h-2zm2 47h2v9h-2zm0 -28h2v20h-2zm2 -2h2v11h-2zm0 -17h2v3h-2zm2 28h2v3h-2zm0 -20h2v11h-2zm2 51h2v2h-2zm0 -14h2v5h-2zm0 -40h2v14h-2zm2 20h2v28h-2zm2 -14h2v25h-2zm2 45h2v3h-2zm0 -31h2v6h-2zm2 31h2v3h-2zm0 -37h2v6h-2zm2 37h2v3h-2zm0 -25h2v5h-2zm2 14h2v11h-2zm0 -34h2v25h-2zm2 39h2v9h-2zm0 -22h2v17h-2zm2 25h2v6h-2zm0 -17h2v6h-2zm0 -17h2v6h-2zm2 20h2v3h-2zm0 -8h2v5h-2zm0 -6h2v3h-2zm0 -25h2v3h-2zm2 36h2v6h-2zm2 11h2v12h-2zm0 -14h2v9h-2zm0 -36h2v17h-2zm2 36h2v12h-2zm2 9h2v17h-2zm0 -20h2v14h-2zm2 9h2v14h-2zm0 -26h2v3h-2zm0 -11h2v3h-2zm2 62h2v5h-2zm0 -25h2v16h-2zm2 0h2v11h-2zm2 14h2v14h-2zm0 -12h2v9h-2zm4 -8h2v14h-2zm2 28h2v6h-2zm0 -34h2v26h-2zm2 28h2v3h-2zm0 -14h2v9h-2zm2 6h2v6h-2zm0 -14h2v3h-2zm2 28h2v6h-2zm2 -3h2v9h-2zm0 -17h2v3h-2zm2 20h2v3h-2zm0 -25h2v14h-2zm2 3h2v22h-2zm2 16h2v9h-2zm2 6h2v6h-2zm4 -17h2v9h-2zm0 -33h2v5h-2zm2 36h2v20h-2zm0 -25h2v5h-2zm2 33h2v12h-2zm0 -19h2v14h-2zm4 0h2v14h-2zm2 3h2v5h-2zm0 -6h2v3h-2zm2 -3h2v3h-2zm2 31h2v6h-2zm0 -56h2v3h-2zm2 56h2v8h-2zm0 -14h2v11h-2zm2 -6h2v6h-2zm2 26h2v2h-2zm0 -23h2v3h-2zm2 6h2v5h-2zm2 14h2v3h-2zm0 -20h2v14h-2zm2 -5h2v19h-2zm6 22h2v8h-2zm2 -6h2v12h-2zm0 -14h2v9h-2zm2 14h2v3h-2zm0 -25h2v11h-2zm2 3h2v17h-2zm2 22h2v9h-2zm2 6h2v6h-2zm0 -8h2v2h-2zm2 11h2v3h-2zm0 -9h2v3h-2zm0 -25h2v20h-2zm2 31h2v3h-2zm0 -11h2v5h-2zm2 -3h2v3h-2zm2 17h2v3h-2zm0 -25h2v11h-2zm2 5h2v23h-2zm0 -8h2v5h-2zm2 11h2v20h-2zm2 17h2v3h-2zm0 -9h2v3h-2zm0 -5h2v3h-2zm0 -14h2v11h-2zm0 -23h2v12h-2zm2 51h2v3h-2zm0 -56h2v5h-2zm4 47h2v9h-2zm0 -19h2v8h-2zm2 11h2v6h-2zm0 -28h2v3h-2zm2 45h2v3h-2zm0 -28h2v22h-2zm2 28h2v3h-2zm0 -11h2v2h-2zm4 -9h2v11h-2zm2 -11h2v17h-2zm2 14h2v20h-2zm2 -6h2v6h-2zm2 -8h2v14h-2zm2 34h2v2h-2zm0 -6h2v3h-2zm0 -22h2v11h-2zm2 19h2v6h-2zm0 -14h2v6h-2zm2 20h2v3h-2zm0 -45h2v34h-2zm2 22h2v20h-2zm2 26h2v2h-2zm0 -26h2v9h-2zm2 -2h2v8h-2zm2 16h2v12h-2zm2 -19h2v3h-2zm2 5h2v20h-2zm0 -14h2v9h-2zm2 20h2v17h-2zm0 -6h2v3h-2zm0 -19h2v8h-2zm2 45h2v2h-2zm0 -34h2v14h-2zm0 -20h2v3h-2zm2 20h2v28h-2zm2 20h2v16h-2zm0 -40h2v12h-2zm2 14h2v12h-2zm2 23h2v5h-2zm2 -3h2v3h-2zm2 8h2v6h-2zm0 -16h2v2h-2zm2 11h2v5h-2zm4 -14h2v25h-2zm2 -3h2v14h-2zm2 34h2v2h-2zm0 -26h2v3h-2zm0 -22h2v8h-2zm2 17h2v19h-2zm0 -23h2v12h-2zm4 54h2v2h-2zm2 -14h2v14h-2zm0 -17h2v5h-2zm0 -11h2v2h-2zm4 42h2v2h-2zm0 -12h2v3h-2zm2 12h2v2h-2zm0 -26h2v12h-2zm0 -16h2v2h-2zm2 -9h2v28h-2zm2 45h2v6h-2zm0 -20h2v9h-2zm2 23h2v3h-2zm0 -34h2v28h-2zm2 31h2v6h-2zm0 -39h2v36h-2zm4 45h2v2h-2zm0 -42h2v28h-2zm2 5h2v28h-2zm2 37h2v2h-2zm0 -34h2v22h-2z"/>
<path fill="#00ffff" d="M37 274h2v3h-2zm16 3h2v2h-2zm0 -20h2v6h-2zm8 -6h2v6h-2zm16 17h2v6h-2zm30 -5h2v2h-2zm2 5h2v3h-2zm6 -14h2v9h-2zm2 23h2v2h-2zm0 -9h2v6h-2zm4 3h2v6h-2zm16 -34h2v6h-2zm4 34h2v6h-2zm6 -36h2v5h-2zm18 39h2v3h-2zm0 -11h2v8h-2zm2 -26h2v6h-2zm4 37h2v3h-2zm10 -11h2v2h-2zm2 -3h2v3h-2zm4 8h2v3h-2zm2 -3h2v12h-2zm2 -5h2v8h-2zm4 -23h2v23h-2zm2 28h2v12h-2zm4 -11h2v6h-2zm4 -19h2v25h-2zm2 39h2v3h-2zm6 -23h2v17h-2zm2 12h2v5h-2zm6 -3h2v5h-2zm4 0h2v8h-2zm2 11h2v6h-2zm2 -17h2v3h-2zm6 -17h2v28h-2zm2 14h2v6h-2zm2 26h2v2h-2zm0 -23h2v9h-2zm2 -11h2v11h-2zm10 14h2v3h-2zm2 14h2v3h-2zm2 -11h2v11h-2zm12 17h2v2h-2zm4 -12h2v6h-2zm0 -11h2v3h-2zm2 6h2v3h-2zm2 -20h2v25h-2zm2 0h2v20h-2zm6 23h2v2h-2zm6 5h2v6h-2zm4 -3h2v3h-2zm2 0h2v3h-2zm8 12h2v2h-2zm2 -26h2v3h-2zm4 12h2v2h-2zm4 5h2v9h-2zm2 -22h2v3h-2zm4 14h2v5h-2zm2 5h2v6h-2zm0 -8h2v6h-2zm4 -17h2v3h-2zm4 14h2v3h-2zm2 20h2v3h-2zm0 -9h2v6h-2zm2 -5h2v14h-2zm6 8h2v6h-2zm6 9h2v2h-2zm20 -12h2v3h-2zm2 3h2v9h-2zm2 0h2v3h-2zm2 -5h2v2h-2zm2 -17h2v3h-2zm4 28h2v3h-2zm4 -9h2v3h-2zm8 -11h2v9h-2zm2 14h2v9h-2zm0 -8h2v3h-2zm4 -34h2v9h-2zm4 45h2v3h-2zm0 -17h2v14h-2zm8 11h2v3h-2zm4 0h2v6h-2zm2 3h2v3h-2zm4 -5h2v11h-2zm6 -26h2v31h-2zm8 20h2v6h-2zm4 8h2v6h-2zm0 -16h2v2h-2zm2 11h2v3h-2zm2 5h2v12h-2zm2 -8h2v17h-2zm2 11h2v11h-2zm4 -19h2v11h-2zm2 -6h2v14h-2zm0 -20h2v6h-2zm8 34h2v8h-2zm4 14h2v3h-2zm0 -28h2v22h-2zm4 17h2v5h-2zm4 8h2v3h-2zm4 0h2v9h-2zm2 -5h2v14h-2zm2 2h2v3h-2zm4 -5h2v8h-2zm2 0h2v3h-2zm2 11h2v6h-2zm2 3h2v3h-2zm8 -23h2v6h-2zm2 20h2v6h-2zm0 -8h2v5h-2zm2 0h2v5h-2zm6 -9h2v14h-2zm2 -3h2v14h-2zm8 26h2v2h-2zm4 -6h2v3h-2zm2 -11h2v8h-2zm4 -6h2v23h-2zm6 6h2v3h-2zm8 -3h2v17h-2zm2 -3h2v3h-2zm12 6h2v14h-2zm4 8h2v9h-2zm6 0h2v6h-2zm2 6h2v3h-2zm0 -14h2v3h-2zm4 -6h2v14h-2zm6 6h2v5h-2zm4 -9h2v20h-2zm4 12h2v2h-2zm8 -12h2v14h-2zm2 23h2v3h-2zm0 -11h2v5h-2zm4 -3h2v5h-2zm4 0h2v3h-2zm2 -6h2v11h-2zm4 6h2v5h-2zm2 8h2v3h-2zm4 -11h2v11h-2zm0 -8h2v5h-2zm4 28h2v2h-2zm16 -3h2v3h-2zm0 -17h2v3h-2zm4 3h2v5h-2zm2 -9h2v9h-2zm4 9h2v8h-2zm10 14h2v3h-2zm6 -6h2v3h-2zm6 9h2v2h-2zm8 -14h2v14h-2zm2 2h2v6h-2zm4 -2h2v11h-2zm2 11h2v5h-2zm2 -11h2v14h-2zm2 14h2v2h-2zm0 -6h2v3h-2zm4 -22h2v2h-2zm2 22h2v3h-2zm2 6h2v2h-2zm2 -20h2v14h-2zm14 -11h2v14h-2zm24 19h2v3h-2zm2 -2h2v2h-2z"/>
<path fill="#00c000" d="M83 268h2v3h-2zm124 3h2v3h-2zm14 6h2v2h-2zm122 -12h2v9h-2zm6 -2h2v14h-2zm40 8h2v6h-2zm24 6h2v2h-2zm6 -6h2v6h-2zm24 -17h2v3h-2zm2 9h2v2h-2zm18 2h2v3h-2zm2 12h2v2h-2zm6 0h2v2h-2zm2 -12h2v3h-2zm10 9h2v3h-2zm32 -3h2v6h-2zm22 0h2v3h-2zm50 -39h2v28h-2zm8 45h2v2h-2zm10 -17h2v5h-2zm44 3h2v2h-2zm62 -26h2v23h-2zm10 40h2v2h-2zm6 0h2v2h-2zm2 -9h2v3h-2zm6 -3h2v6h-2zm2 6h2v3h-2z"/>
</g>
<g>
<path fill="#80ffff" d="M31 530h2v28h-2zm2 5h2v23h-2zm2 3h2v22h-2zm2 3h2v17h-2zm2 -3h2v20h-2zm2 3h2v17h-2zm2 14h2v3h-2zm0 -17h2v8h-2zm2 -11h2v33h-2zm2 14h2v17h-2zm0 -11h2v2h-2zm2 8h2v20h-2zm0 -11h2v3h-2zm0 -14h2v8h-2zm2 0h2v45h-2zm2 -3h2v50h-2zm2 28h2v20h-2zm0 -28h2v25h-2zm2 -8h2v58h-2zm2 5h2v51h-2zm2 25h2v26h-2zm0 -25h2v23h-2zm2 28h2v23h-2zm0 -17h2v9h-2zm0 -11h2v9h-2zm2 25h2v28h-2zm0 -11h2v6h-2zm0 -5h2v2h-2zm0 -12h2v9h-2zm2 3h2v51h-2zm2 28h2v23h-2zm0 -31h2v26h-2zm2 34h2v22h-2zm0 -36h2v30h-2zm2 22h2v36h-2zm0 -22h2v16h-2zm2 56h2v2h-2zm0 -23h2v17h-2zm0 -5h2v2h-2zm0 -9h2v6h-2zm0 -19h2v11h-2zm2 0h2v58h-2zm2 25h2v31h-2zm0 -23h2v17h-2zm2 31h2v23h-2zm0 -14h2v11h-2zm0 -22h2v14h-2zm2 45h2v16h-2zm0 -42h2v28h-2zm2 22h2v36h-2zm0 -28h2v22h-2zm2 3h2v59h-2zm2 33h2v26h-2zm0 -14h2v9h-2zm0 -25h2v23h-2zm2 9h2v58h-2zm2 39h2v17h-2zm0 -42h2v25h-2zm2 31h2v28h-2zm0 -17h2v8h-2zm0 -11h2v5h-2zm2 0h2v58h-2zm2 36h2v22h-2zm0 -42h2v36h-2zm2 8h2v54h-2zm2 28h2v28h-2zm0 -22h2v17h-2zm2 11h2v39h-2zm0 -8h2v3h-2zm2 -6h2v51h-2zm2 25h2v28h-2zm0 -25h2v20h-2zm2 39h2v12h-2zm0 -22h2v14h-2zm0 -17h2v14h-2zm2 23h2v28h-2zm0 -14h2v5h-2zm2 19h2v25h-2zm0 -5h2v2h-2zm0 -14h2v5h-2zm2 -3h2v47h-2zm2 36h2v9h-2zm0 -39h2v25h-2zm2 -6h2v54h-2zm2 -2h2v58h-2zm2 28h2v28h-2zm0 -28h2v19h-2zm2 5h2v51h-2zm2 0h2v51h-2zm2 51h2v2h-2zm0 -56h2v53h-2zm2 39h2v17h-2zm0 -39h2v36h-2zm2 2h2v48h-2zm2 0h2v51h-2zm2 0h2v42h-2zm2 6h2v42h-2zm2 45h2v3h-2zm0 -45h2v28h-2zm2 6h2v44h-2zm2 -3h2v45h-2zm2 -3h2v48h-2zm2 -3h2v51h-2zm2 11h2v40h-2zm2 0h2v40h-2zm2 -5h2v45h-2zm0 -6h2v3h-2zm2 11h2v40h-2zm2 -2h2v42h-2zm2 0h2v42h-2zm2 -3h2v47h-2zm2 0h2v45h-2zm2 14h2v31h-2zm0 -9h2v3h-2zm2 0h2v40h-2zm2 6h2v34h-2zm2 -3h2v39h-2zm2 3h2v34h-2zm2 -3h2v37h-2zm2 0h2v37h-2zm2 3h2v34h-2zm2 -8h2v44h-2zm0 -9h2v6h-2zm2 -8h2v59h-2zm2 22h2v39h-2zm0 -28h2v20h-2zm2 6h2v61h-2zm2 0h2v61h-2zm2 -9h2v70h-2zm2 9h2v59h-2zm2 0h2v59h-2zm2 3h2v56h-2zm2 -3h2v59h-2zm2 3h2v56h-2zm2 -3h2v59h-2zm2 0h2v59h-2zm2 0h2v59h-2zm2 0h2v59h-2zm2 -6h2v65h-2zm2 9h2v56h-2zm2 2h2v54h-2zm2 37h2v19h-2zm0 -34h2v23h-2zm0 -5h2v2h-2zm2 5h2v51h-2zm2 -14h2v67h-2zm2 0h2v65h-2zm2 6h2v61h-2zm2 0h2v61h-2zm2 33h2v26h-2zm0 -30h2v19h-2zm2 16h2v42h-2zm0 -19h2v14h-2zm2 -6h2v65h-2zm2 6h2v61h-2zm2 0h2v59h-2zm2 3h2v56h-2zm2 -3h2v59h-2zm2 8h2v51h-2zm2 6h2v47h-2zm0 -11h2v2h-2zm2 -6h2v62h-2zm2 -8h2v70h-2zm2 14h2v56h-2zm2 -9h2v67h-2zm2 42h2v23h-2zm0 -42h2v31h-2zm2 -5h2v70h-2zm2 -9h2v79h-2zm2 45h2v34h-2zm0 -22h2v11h-2zm2 -9h2v67h-2zm2 25h2v42h-2zm0 -8h2v3h-2zm0 -11h2v5h-2zm2 19h2v40h-2zm0 -22h2v3h-2zm2 22h2v40h-2zm0 -22h2v6h-2zm2 56h2v8h-2zm0 -78h2v72h-2zm2 0h2v84h-2zm2 16h2v70h-2zm2 45h2v25h-2zm0 -50h2v42h-2zm2 42h2v31h-2zm0 -42h2v39h-2zm2 3h2v70h-2zm2 5h2v65h-2zm2 34h2v33h-2zm0 -6h2v3h-2zm0 -33h2v30h-2zm2 44h2v28h-2zm0 -42h2v40h-2zm2 -5h2v75h-2zm2 70h2v3h-2zm0 -76h2v70h-2zm2 59h2v22h-2zm0 -22h2v19h-2zm0 -9h2v6h-2zm0 -5h2v2h-2zm0 -23h2v17h-2zm2 62h2v19h-2zm0 -23h2v3h-2zm0 -5h2v3h-2zm0 -14h2v5h-2zm0 -23h2v20h-2zm2 65h2v17h-2zm0 -23h2v3h-2zm0 -14h2v12h-2zm0 -25h2v14h-2zm2 62h2v19h-2zm0 -53h2v30h-2zm2 61h2v11h-2zm0 -14h2v3h-2zm0 -5h2v2h-2zm0 -48h2v45h-2zm2 48h2v30h-2zm0 -45h2v42h-2zm2 53h2v22h-2zm0 -11h2v3h-2zm0 -25h2v19h-2zm0 -17h2v14h-2zm2 53h2v22h-2zm0 -6h2v3h-2zm0 -5h2v3h-2zm0 -6h2v3h-2zm0 -17h2v14h-2zm0 -25h2v14h-2zm2 59h2v22h-2zm0 -36h2v16h-2zm0 -17h2v11h-2zm2 50h2v23h-2zm0 -11h2v3h-2zm0 -48h2v20h-2zm2 68h2v16h-2zm0 -59h2v22h-2zm2 59h2v14h-2zm0 -62h2v22h-2zm2 64h2v14h-2zm0 -61h2v22h-2zm2 64h2v9h-2zm0 -67h2v17h-2zm2 67h2v9h-2zm0 -67h2v20h-2zm2 62h2v14h-2zm0 -51h2v14h-2zm2 53h2v14h-2zm0 -5h2v3h-2zm0 -51h2v20h-2zm2 54h2v14h-2zm0 -45h2v14h-2zm2 50h2v11h-2zm0 -59h2v14h-2zm2 56h2v12h-2zm0 -58h2v14h-2zm2 58h2v14h-2zm0 -56h2v20h-2zm2 56h2v12h-2zm0 -61h2v17h-2zm2 67h2v8h-2zm0 -64h2v2h-2zm0 -14h2v11h-2zm2 25h2v11h-2zm0 -6h2v3h-2zm0 -17h2v12h-2zm2 9h2v11h-2zm2 73h2v2h-2zm0 -45h2v3h-2zm0 -17h2v14h-2zm0 -11h2v8h-2zm0 -9h2v6h-2zm2 42h2v3h-2zm0 -33h2v19h-2zm2 5h2v12h-2zm0 -5h2v3h-2zm2 5h2v14h-2zm2 -2h2v11h-2zm2 0h2v30h-2zm2 42h2v5h-2zm0 -12h2v3h-2zm0 -30h2v28h-2zm2 53h2v3h-2zm0 -11h2v2h-2zm0 -45h2v14h-2zm2 8h2v20h-2zm2 -3h2v23h-2zm2 17h2v3h-2zm0 -8h2v5h-2zm0 -11h2v8h-2zm2 58h2v12h-2zm0 -39h2v3h-2zm0 -19h2v11h-2zm2 0h2v30h-2zm2 50h2v6h-2zm0 -34h2v17h-2zm0 -14h2v12h-2zm2 48h2v20h-2zm0 -20h2v9h-2zm0 -22h2v8h-2zm2 48h2v11h-2zm0 -56h2v11h-2zm2 -3h2v14h-2zm2 3h2v19h-2zm2 -3h2v14h-2zm2 36h2v3h-2zm0 -33h2v16h-2zm2 2h2v23h-2zm2 -2h2v22h-2zm2 19h2v9h-2zm0 -5h2v2h-2zm0 -12h2v3h-2zm2 31h2v3h-2zm0 -33h2v14h-2zm2 2h2v20h-2zm2 3h2v11h-2zm2 17h2v3h-2zm0 -28h2v22h-2zm2 11h2v14h-2zm2 14h2v3h-2zm0 -19h2v16h-2zm2 67h2v5h-2zm0 -59h2v11h-2zm2 59h2v5h-2zm0 -67h2v16h-2zm2 64h2v3h-2zm0 -56h2v22h-2zm2 8h2v28h-2zm2 -5h2v31h-2zm2 -6h2v14h-2zm2 -8h2v14h-2zm2 64h2v9h-2zm0 -61h2v14h-2zm2 8h2v22h-2zm2 -3h2v20h-2zm2 0h2v9h-2zm2 -3h2v20h-2zm2 28h2v3h-2zm0 -19h2v11h-2zm2 -6h2v17h-2zm2 0h2v23h-2zm2 -3h2v23h-2zm2 6h2v22h-2zm2 22h2v9h-2zm0 -19h2v11h-2zm2 3h2v16h-2zm2 5h2v20h-2zm2 -8h2v25h-2zm2 8h2v17h-2zm2 -3h2v20h-2zm2 -14h2v26h-2zm2 0h2v23h-2zm2 3h2v14h-2zm2 -5h2v16h-2zm2 8h2v14h-2zm2 -6h2v14h-2zm2 59h2v11h-2zm0 -56h2v20h-2zm2 56h2v11h-2zm0 -56h2v17h-2zm2 3h2v22h-2zm2 62h2v2h-2zm0 -6h2v3h-2zm0 -64h2v25h-2zm2 5h2v20h-2zm2 -3h2v20h-2zm2 62h2v6h-2zm0 -56h2v17h-2zm2 53h2v11h-2zm0 -53h2v17h-2zm2 53h2v11h-2zm0 -59h2v17h-2zm2 59h2v9h-2zm0 -22h2v3h-2zm0 -45h2v17h-2zm2 67h2v9h-2zm0 -56h2v17h-2zm2 59h2v6h-2zm0 -25h2v5h-2zm0 -42h2v25h-2zm2 64h2v11h-2zm0 -64h2v25h-2zm2 64h2v9h-2zm0 -67h2v20h-2zm2 70h2v6h-2zm0 -64h2v22h-2zm2 61h2v11h-2zm0 -59h2v28h-2zm2 59h2v11h-2zm0 -56h2v31h-2zm0 -8h2v5h-2zm2 70h2v3h-2zm0 -56h2v31h-2zm2 56h2v3h-2zm0 -65h2v20h-2zm2 59h2v9h-2zm0 -53h2v20h-2zm2 53h2v11h-2zm0 -50h2v22h-2zm2 50h2v9h-2zm0 -61h2v30h-2zm2 61h2v9h-2zm0 -61h2v25h-2zm2 67h2v3h-2zm0 -65h2v28h-2zm2 62h2v6h-2zm0 -56h2v28h-2zm0 -6h2v3h-2zm2 65h2v3h-2zm0 -37h2v3h-2zm0 -28h2v17h-2zm2 65h2v3h-2zm0 -59h2v17h-2zm2 53h2v9h-2zm0 -50h2v19h-2zm2 50h2v9h-2zm0 -50h2v19h-2zm2 53h2v6h-2zm0 -56h2v17h-2zm2 56h2v8h-2zm0 -59h2v23h-2zm2 59h2v6h-2zm0 -56h2v22h-2zm2 56h2v8h-2zm0 -59h2v25h-2zm2 6h2v25h-2zm2 56h2v3h-2zm0 -37h2v3h-2zm0 -14h2v9h-2zm2 48h2v8h-2zm0 -20h2v3h-2zm0 -25h2v14h-2zm0 -11h2v8h-2zm2 53h2v9h-2zm0 -14h2v3h-2zm0 -8h2v5h-2zm0 -6h2v3h-2zm0 -22h2v19h-2zm2 47h2v12h-2zm0 -50h2v20h-2zm2 56h2v8h-2zm0 -56h2v14h-2zm2 56h2v6h-2zm0 -28h2v14h-2zm0 -25h2v17h-2zm2 50h2v11h-2zm0 -17h2v3h-2zm0 -39h2v17h-2zm2 56h2v9h-2zm0 -17h2v6h-2zm0 -8h2v6h-2zm0 -20h2v9h-2zm2 45h2v9h-2zm0 -28h2v23h-2zm0 -14h2v11h-2zm2 37h2v16h-2zm0 -14h2v2h-2zm0 -6h2v3h-2zm0 -8h2v2h-2zm0 -17h2v14h-2zm2 50h2v11h-2zm0 -33h2v28h-2zm0 -17h2v14h-2zm2 45h2v16h-2zm0 -34h2v25h-2zm2 39h2v9h-2zm0 -25h2v3h-2zm0 -11h2v5h-2zm0 -17h2v14h-2zm2 56h2v8h-2zm0 -22h2v2h-2zm0 -12h2v9h-2zm0 -22h2v20h-2zm2 56h2v6h-2zm0 -6h2v3h-2zm0 -14h2v3h-2zm0 -36h2v34h-2zm2 56h2v6h-2zm0 -8h2v2h-2zm0 -12h2v3h-2zm0 -39h2v25h-2zm2 45h2v22h-2zm0 -42h2v39h-2zm2 42h2v20h-2zm0 -14h2v6h-2zm0 -36h2v30h-2zm2 56h2v14h-2zm0 -42h2v36h-2zm2 53h2v3h-2zm0 -17h2v3h-2zm0 -39h2v28h-2zm2 45h2v16h-2zm0 -26h2v12h-2zm0 -28h2v26h-2zm2 62h2v6h-2zm0 -22h2v14h-2zm0 -37h2v25h-2zm2 45h2v22h-2zm0 -45h2v34h-2zm2 53h2v12h-2zm0 -8h2v3h-2zm0 -48h2v28h-2zm2 59h2v11h-2zm0 -11h2v6h-2zm0 -45h2v25h-2zm0 -5h2v2h-2zm2 42h2v28h-2zm0 -34h2v28h-2zm2 48h2v16h-2zm0 -54h2v40h-2zm2 6h2v22h-2zm2 53h2v9h-2zm0 -47h2v22h-2zm2 44h2v12h-2zm0 -50h2v31h-2zm2 56h2v6h-2zm0 -62h2v31h-2zm2 65h2v3h-2zm0 -59h2v34h-2zm2 53h2v11h-2zm0 -11h2v3h-2zm0 -53h2v47h-2zm2 8h2v67h-2zm2 9h2v56h-2zm2 53h2v3h-2zm0 -48h2v42h-2zm2 -11h2v62h-2zm2 3h2v56h-2zm2 53h2v6h-2zm0 -6h2v3h-2zm0 -53h2v42h-2zm2 42h2v9h-2zm0 -39h2v36h-2zm2 50h2v12h-2zm0 -47h2v36h-2zm2 50h2v11h-2zm0 -56h2v39h-2zm2 56h2v9h-2zm0 -50h2v36h-2zm2 50h2v11h-2zm0 -45h2v34h-2zm2 45h2v11h-2zm0 -45h2v37h-2zm2 45h2v9h-2zm0 -36h2v28h-2zm0 -6h2v3h-2zm2 9h2v42h-2zm2 36h2v8h-2zm0 -36h2v33h-2zm2 -12h2v56h-2zm2 9h2v45h-2zm2 42h2v3h-2zm0 -39h2v36h-2zm2 2h2v40h-2zm0 -22h2v14h-2zm2 0h2v62h-2zm2 -3h2v65h-2zm2 11h2v54h-2zm2 42h2v12h-2zm0 -47h2v42h-2zm2 0h2v59h-2zm2 8h2v51h-2zm2 25h2v26h-2zm0 -33h2v25h-2zm0 -9h2v6h-2zm2 9h2v59h-2zm2 39h2v20h-2zm0 -45h2v31h-2zm2 45h2v20h-2zm0 -36h2v22h-2zm2 42h2v14h-2zm0 -17h2v5h-2zm0 -20h2v11h-2zm0 -5h2v2h-2zm2 53h2v5h-2zm0 -37h2v14h-2zm0 -8h2v6h-2zm2 39h2v9h-2zm0 -25h2v20h-2zm2 20h2v2h-2zm0 -17h2v11h-2zm0 -23h2v3h-2zm2 3h2v37h-2zm2 9h2v28h-2zm0 -12h2v6h-2zm2 54h2v2h-2zm0 -6h2v3h-2zm0 -31h2v28h-2zm0 -14h2v9h-2zm2 51h2v2h-2zm0 -31h2v22h-2zm0 -20h2v9h-2zm0 -8h2v5h-2zm2 31h2v28h-2zm2 -6h2v36h-2zm2 -22h2v58h-2zm2 -6h2v62h-2zm2 -6h2v68h-2zm2 6h2v64h-2zm2 3h2v61h-2zm2 0h2v61h-2zm2 5h2v56h-2zm2 12h2v44h-2zm2 25h2v19h-2zm0 -31h2v25h-2zm2 3h2v47h-2zm2 36h2v11h-2zm0 -33h2v19h-2zm0 -12h2v6h-2zm2 42h2v12h-2zm0 -36h2v25h-2zm2 34h2v16h-2zm0 -42h2v33h-2zm2 44h2v14h-2zm0 -36h2v31h-2zm2 45h2v3h-2zm0 -48h2v37h-2zm2 -3h2v56h-2zm2 -2h2v56h-2zm2 2h2v54h-2zm2 -2h2v58h-2zm2 0h2v56h-2zm2 -6h2v62h-2zm2 31h2v33h-2zm0 -31h2v22h-2zm2 8h2v56h-2zm2 -5h2v61h-2zm2 0h2v61h-2zm2 5h2v56h-2zm2 -14h2v70h-2zm2 -5h2v75h-2zm2 8h2v67h-2zm2 0h2v65h-2zm2 -5h2v70h-2zm2 44h2v28h-2zm0 -11h2v9h-2zm0 -28h2v14h-2zm2 51h2v14h-2zm0 -9h2v6h-2zm0 -47h2v42h-2zm2 58h2v12h-2zm0 -56h2v45h-2zm2 62h2v8h-2zm0 -20h2v12h-2zm0 -53h2v34h-2zm2 56h2v25h-2zm0 -42h2v34h-2zm2 45h2v22h-2zm0 -53h2v36h-2z"/>
<path fill="#00ffff" d="M119 546h2v3h-2zm12 9h2v3h-2zm4 -3h2v8h-2zm2 3h2v3h-2zm2 -9h2v12h-2zm2 6h2v6h-2zm118 -28h2v11h-2zm38 11h2v3h-2zm0 -22h2v3h-2zm0 -9h2v3h-2zm0 -8h2v6h-2zm2 25h2v20h-2zm0 -5h2v2h-2zm0 -12h2v9h-2zm0 -8h2v3h-2zm2 25h2v20h-2zm0 -5h2v2h-2zm0 -23h2v11h-2zm2 25h2v23h-2zm2 14h2v3h-2zm0 -5h2v3h-2zm2 0h2v3h-2zm2 3h2v8h-2zm0 -9h2v6h-2zm0 -22h2v3h-2zm2 36h2v3h-2zm0 -5h2v2h-2zm0 -6h2v3h-2zm0 -6h2v3h-2zm0 -25h2v11h-2zm2 25h2v20h-2zm0 -22h2v6h-2zm2 31h2v8h-2zm0 -9h2v6h-2zm0 -22h2v20h-2zm2 22h2v26h-2zm0 -11h2v6h-2zm2 34h2v3h-2zm0 -9h2v6h-2zm0 -28h2v3h-2zm2 37h2v5h-2zm0 -9h2v3h-2zm0 -5h2v3h-2zm0 -20h2v3h-2zm2 28h2v14h-2zm0 -36h2v19h-2zm2 28h2v22h-2zm0 -25h2v5h-2zm2 36h2v6h-2zm0 -31h2v11h-2zm2 37h2v2h-2zm0 -9h2v6h-2zm0 -25h2v3h-2zm2 8h2v3h-2zm0 -5h2v3h-2zm2 28h2v8h-2zm0 -37h2v12h-2zm2 34h2v8h-2zm0 -36h2v16h-2zm2 42h2v2h-2zm0 -34h2v3h-2zm2 34h2v2h-2zm0 -31h2v3h-2zm0 -11h2v5h-2zm2 47h2v3h-2zm0 -36h2v8h-2zm0 -23h2v14h-2zm0 -5h2v3h-2zm2 64h2v9h-2zm0 -39h2v11h-2zm0 -14h2v3h-2zm0 -8h2v5h-2zm2 61h2v11h-2zm0 -53h2v31h-2zm2 53h2v9h-2zm0 -33h2v8h-2zm0 -6h2v3h-2zm0 -17h2v3h-2zm2 62h2v5h-2zm0 -34h2v9h-2zm0 -5h2v2h-2zm0 -12h2v6h-2zm2 48h2v8h-2zm0 -50h2v16h-2zm2 30h2v3h-2zm0 -8h2v6h-2zm0 -20h2v17h-2zm2 20h2v8h-2zm0 -25h2v22h-2zm2 19h2v23h-2zm2 17h2v9h-2zm0 -14h2v9h-2zm0 -5h2v2h-2zm2 28h2v14h-2zm0 -12h2v9h-2zm0 -33h2v31h-2zm2 25h2v34h-2zm0 -11h2v8h-2zm2 31h2v16h-2zm0 -31h2v5h-2zm2 33h2v3h-2zm0 -36h2v34h-2zm0 -6h2v3h-2zm0 -8h2v3h-2zm2 14h2v36h-2zm0 -11h2v8h-2zm2 31h2v28h-2zm0 -9h2v3h-2zm2 23h2v16h-2zm0 -23h2v17h-2zm0 -19h2v2h-2zm2 25h2v11h-2zm0 -23h2v14h-2zm2 51h2v3h-2zm0 -56h2v45h-2zm2 0h2v61h-2zm2 8h2v51h-2zm2 34h2v17h-2zm0 -11h2v5h-2zm0 -31h2v28h-2zm2 25h2v22h-2zm0 -20h2v17h-2zm2 14h2v40h-2zm0 -5h2v3h-2zm2 33h2v9h-2zm0 -28h2v3h-2zm0 -8h2v3h-2zm2 6h2v2h-2zm0 -12h2v3h-2zm0 -11h2v9h-2zm2 31h2v20h-2zm0 -22h2v19h-2zm2 47h2v11h-2zm0 -31h2v6h-2zm0 -8h2v3h-2zm2 45h2v3h-2zm0 -51h2v14h-2zm2 34h2v3h-2zm0 -25h2v19h-2zm0 -9h2v6h-2zm2 45h2v9h-2zm0 -8h2v3h-2zm0 -34h2v17h-2zm2 42h2v9h-2zm0 -8h2v3h-2zm0 -6h2v3h-2zm0 -25h2v11h-2zm0 -6h2v3h-2zm2 45h2v6h-2zm0 -5h2v2h-2zm0 -37h2v17h-2zm2 39h2v9h-2zm0 -42h2v9h-2zm2 51h2v3h-2zm0 -9h2v6h-2zm0 -28h2v3h-2zm2 28h2v14h-2zm0 -14h2v3h-2zm2 23h2v3h-2zm0 -25h2v2h-2zm2 -23h2v11h-2zm2 31h2v22h-2zm0 -20h2v9h-2zm0 -19h2v17h-2zm2 45h2v5h-2zm0 -42h2v11h-2zm2 53h2v3h-2zm0 -9h2v6h-2zm0 -5h2v3h-2zm0 -23h2v3h-2zm2 26h2v5h-2zm0 -26h2v3h-2zm0 -5h2v3h-2zm2 3h2v2h-2zm0 -14h2v11h-2zm2 36h2v6h-2zm0 -20h2v3h-2zm0 -8h2v6h-2zm2 34h2v16h-2zm0 -23h2v3h-2zm0 -11h2v8h-2zm2 25h2v9h-2zm0 -17h2v9h-2zm0 -8h2v3h-2zm2 31h2v19h-2zm0 -25h2v2h-2zm2 33h2v3h-2zm0 -36h2v5h-2zm2 5h2v6h-2zm2 -8h2v8h-2zm2 31h2v3h-2zm0 -23h2v6h-2zm2 28h2v14h-2zm0 -19h2v5h-2zm2 -3h2v3h-2zm2 0h2v6h-2zm2 0h2v6h-2zm2 -8h2v2h-2zm2 36h2v3h-2zm0 -39h2v3h-2zm2 -6h2v6h-2zm2 25h2v3h-2zm0 -28h2v20h-2zm2 45h2v11h-2zm0 -11h2v6h-2zm0 -11h2v5h-2zm0 -17h2v14h-2zm2 39h2v9h-2zm0 -5h2v2h-2zm0 -40h2v26h-2zm2 37h2v8h-2zm0 -11h2v8h-2zm0 -17h2v14h-2zm2 33h2v3h-2zm0 -36h2v8h-2zm2 42h2v8h-2zm0 -34h2v3h-2zm2 37h2v3h-2zm0 -42h2v5h-2zm2 42h2v5h-2zm0 -42h2v11h-2zm2 42h2v5h-2zm0 -20h2v3h-2zm0 -25h2v6h-2zm2 11h2v31h-2zm0 -8h2v5h-2zm2 0h2v36h-2zm2 -6h2v42h-2zm2 23h2v19h-2zm0 -12h2v9h-2zm2 3h2v28h-2zm0 -5h2v2h-2zm0 -6h2v3h-2zm2 22h2v20h-2zm0 -14h2v9h-2zm0 -8h2v3h-2zm2 11h2v28h-2zm0 -11h2v3h-2zm2 17h2v17h-2zm0 -6h2v3h-2zm0 -19h2v5h-2zm2 44h2v6h-2zm0 -19h2v17h-2zm0 -17h2v3h-2zm2 20h2v19h-2zm2 14h2v5h-2zm0 -20h2v3h-2zm2 6h2v2h-2zm2 -3h2v17h-2zm0 -17h2v6h-2zm2 17h2v22h-2zm0 -11h2v5h-2zm2 14h2v19h-2zm0 -9h2v3h-2zm2 9h2v19h-2zm2 14h2v5h-2zm0 -31h2v8h-2zm4 11h2v3h-2zm2 -3h2v3h-2zm0 -14h2v11h-2zm2 51h2v2h-2zm0 -28h2v14h-2zm0 -17h2v14h-2zm2 5h2v31h-2zm2 28h2v3h-2zm0 -5h2v3h-2zm0 -14h2v11h-2zm0 -9h2v6h-2zm2 31h2v3h-2zm0 -22h2v5h-2zm0 -14h2v11h-2zm2 3h2v28h-2zm2 30h2v6h-2zm0 -22h2v17h-2zm0 -6h2v3h-2zm2 12h2v2h-2zm0 -12h2v3h-2zm2 37h2v3h-2zm0 -25h2v2h-2zm0 -6h2v3h-2zm2 34h2v2h-2zm0 -37h2v20h-2zm0 -8h2v5h-2zm2 22h2v9h-2zm0 -14h2v11h-2zm0 -17h2v3h-2zm2 34h2v8h-2zm0 -6h2v3h-2zm0 -8h2v3h-2zm0 -6h2v3h-2zm2 26h2v2h-2zm0 -14h2v8h-2zm0 -14h2v11h-2zm2 30h2v3h-2zm0 -22h2v17h-2zm0 -14h2v11h-2zm2 28h2v11h-2zm0 -22h2v8h-2zm2 19h2v14h-2zm0 -25h2v22h-2zm2 28h2v11h-2zm0 -8h2v2h-2zm0 -17h2v11h-2zm2 5h2v3h-2zm2 14h2v12h-2zm0 -5h2v3h-2zm0 -9h2v6h-2zm0 -5h2v3h-2zm2 31h2v5h-2zm0 -31h2v3h-2zm2 22h2v9h-2zm2 -8h2v22h-2zm0 -9h2v6h-2zm0 -8h2v3h-2zm2 22h2v20h-2zm0 -5h2v3h-2zm0 -11h2v2h-2zm2 33h2v3h-2zm0 -14h2v11h-2zm0 -5h2v2h-2zm2 16h2v6h-2zm0 -11h2v9h-2zm0 -17h2v14h-2zm2 17h2v3h-2zm2 -5h2v8h-2zm0 -12h2v6h-2zm2 20h2v6h-2zm2 3h2v14h-2zm0 -14h2v11h-2zm2 3h2v14h-2zm0 -14h2v2h-2zm2 28h2v8h-2zm0 -26h2v12h-2zm2 9h2v11h-2zm2 14h2v5h-2zm0 -23h2v20h-2zm2 26h2v5h-2zm0 -26h2v20h-2zm2 6h2v6h-2zm2 17h2v3h-2zm0 -11h2v5h-2zm2 16h2v6h-2zm0 -28h2v26h-2zm2 20h2v11h-2zm0 -14h2v11h-2zm2 17h2v5h-2zm0 -14h2v5h-2zm2 14h2v11h-2zm0 -20h2v17h-2zm2 9h2v25h-2zm2 11h2v8h-2zm0 -9h2v6h-2zm6 17h2v6h-2zm4 6h2v3h-2zm2 -6h2v3h-2zm0 -14h2v11h-2zm2 9h2v16h-2zm0 -12h2v3h-2zm2 3h2v11h-2zm2 -3h2v17h-2zm2 3h2v14h-2zm2 3h2v11h-2zm2 3h2v8h-2zm2 0h2v8h-2zm4 8h2v3h-2zm4 9h2v2h-2zm2 0h2v2h-2zm0 -6h2v3h-2zm16 -28h2v8h-2zm4 0h2v14h-2zm2 0h2v14h-2zm2 8h2v12h-2zm2 0h2v14h-2zm2 12h2v5h-2zm2 8h2v8h-2zm0 -6h2v3h-2zm0 -8h2v6h-2zm2 6h2v14h-2zm2 0h2v16h-2zm2 11h2v3h-2zm0 -6h2v3h-2zm2 0h2v9h-2zm22 -14h2v6h-2zm4 0h2v14h-2zm2 0h2v11h-2zm2 0h2v9h-2zm2 6h2v5h-2zm2 17h2v2h-2zm0 -14h2v11h-2zm34 -14h2v2h-2zm2 11h2v3h-2zm0 -11h2v5h-2zm2 5h2v11h-2zm2 9h2v8h-2zm0 -23h2v11h-2zm0 -8h2v3h-2zm2 14h2v8h-2zm2 3h2v8h-2zm0 -9h2v6h-2z"/>
<path fill="#0080ff" d="M315 516h2v2h-2zm2 -3h2v5h-2zm2 25h2v3h-2zm0 -31h2v25h-2zm2 28h2v6h-2zm0 -5h2v2h-2zm0 -20h2v17h-2zm2 8h2v17h-2zm2 -11h2v20h-2zm2 11h2v20h-2zm2 -5h2v22h-2zm2 19h2v12h-2zm0 -5h2v3h-2zm0 -6h2v3h-2zm0 -5h2v2h-2zm2 14h2v11h-2zm0 -14h2v11h-2zm2 16h2v6h-2zm0 -14h2v9h-2zm2 20h2v6h-2zm0 -25h2v14h-2zm2 28h2v3h-2zm0 -25h2v8h-2zm0 -9h2v6h-2zm2 37h2v5h-2zm0 -23h2v3h-2zm2 25h2v3h-2zm0 -25h2v6h-2zm2 25h2v3h-2zm0 -19h2v5h-2zm2 19h2v3h-2zm0 -22h2v8h-2zm2 25h2v6h-2zm0 -19h2v8h-2zm0 -20h2v6h-2zm2 36h2v6h-2zm0 -28h2v12h-2zm2 40h2v2h-2zm0 -23h2v3h-2zm0 -5h2v2h-2zm0 -9h2v3h-2zm2 31h2v6h-2zm0 -20h2v9h-2zm0 -11h2v3h-2zm2 31h2v6h-2zm0 -11h2v8h-2zm2 3h2v14h-2zm4 -23h2v3h-2zm2 6h2v17h-2zm0 -9h2v6h-2zm2 31h2v9h-2zm0 -5h2v2h-2zm4 -20h2v6h-2zm0 -6h2v3h-2zm12 17h2v6h-2zm0 -8h2v3h-2zm2 19h2v12h-2zm2 -30h2v2h-2zm2 39h2v3h-2zm0 -34h2v25h-2zm0 -8h2v5h-2zm2 33h2v12h-2zm0 -8h2v3h-2zm0 -20h2v17h-2zm2 37h2v3h-2zm0 -6h2v3h-2zm2 -25h2v25h-2zm0 -11h2v5h-2zm2 31h2v11h-2zm0 -26h2v6h-2zm2 37h2v3h-2zm0 -6h2v3h-2zm0 -8h2v3h-2zm0 -9h2v6h-2zm2 12h2v5h-2zm0 -20h2v17h-2zm2 20h2v5h-2zm0 -6h2v3h-2zm0 -17h2v14h-2zm2 25h2v3h-2zm0 -22h2v20h-2zm2 -11h2v33h-2zm2 31h2v2h-2zm0 -23h2v3h-2zm2 23h2v2h-2zm0 -9h2v3h-2zm2 23h2v2h-2zm0 -9h2v6h-2zm0 -17h2v3h-2zm2 14h2v14h-2zm0 -8h2v6h-2zm0 -20h2v12h-2zm2 9h2v11h-2zm0 -11h2v2h-2zm2 16h2v12h-2zm0 -19h2v11h-2zm2 39h2v3h-2zm0 -8h2v2h-2zm0 -12h2v9h-2zm0 -11h2v6h-2zm2 28h2v11h-2zm0 -11h2v6h-2zm0 -17h2v3h-2zm0 -5h2v2h-2zm2 19h2v25h-2zm0 -17h2v6h-2zm0 -5h2v3h-2zm2 31h2v16h-2zm0 -23h2v17h-2zm0 -5h2v2h-2zm2 22h2v6h-2zm0 -14h2v3h-2zm2 20h2v14h-2zm0 -17h2v8h-2zm0 -14h2v5h-2zm2 19h2v9h-2zm0 -14h2v12h-2zm2 34h2v8h-2zm0 -11h2v8h-2zm0 -23h2v6h-2zm2 26h2v16h-2zm0 -20h2v3h-2zm2 25h2v9h-2zm2 -25h2v17h-2zm2 20h2v2h-2zm0 -12h2v3h-2zm2 20h2v6h-2zm0 -25h2v3h-2zm2 3h2v2h-2zm2 22h2v3h-2zm0 -8h2v2h-2zm0 -14h2v2h-2zm2 -9h2v3h-2zm2 34h2v5h-2zm0 -11h2v8h-2zm0 -28h2v2h-2zm2 33h2v9h-2zm0 -36h2v11h-2zm2 22h2v23h-2zm0 -11h2v8h-2zm2 20h2v5h-2zm0 -12h2v6h-2zm0 -8h2v3h-2zm2 34h2v2h-2zm0 -12h2v3h-2zm0 -16h2v14h-2zm2 8h2v3h-2zm0 -11h2v3h-2zm2 -9h2v28h-2zm2 3h2v31h-2zm2 11h2v20h-2zm0 -14h2v6h-2zm2 17h2v20h-2zm0 -5h2v2h-2zm0 -6h2v3h-2zm2 14h2v17h-2zm0 -22h2v19h-2zm2 2h2v3h-2zm6 -8h2v8h-2zm2 8h2v3h-2zm0 -5h2v3h-2zm2 0h2v5h-2zm2 0h2v8h-2zm2 31h2v5h-2zm0 -20h2v3h-2zm0 -17h2v14h-2zm2 37h2v2h-2zm0 -31h2v14h-2zm2 5h2v12h-2zm2 9h2v17h-2zm2 5h2v23h-2zm2 12h2v11h-2zm0 -28h2v11h-2zm2 5h2v6h-2zm2 3h2v6h-2zm2 -6h2v12h-2zm2 12h2v14h-2zm0 -9h2v3h-2zm2 -3h2v37h-2zm2 9h2v25h-2zm2 3h2v25h-2zm0 -6h2v3h-2zm2 25h2v6h-2zm0 -22h2v3h-2zm4 17h2v2h-2zm0 -6h2v3h-2zm0 -14h2v3h-2zm2 8h2v17h-2zm0 -8h2v3h-2zm2 20h2v8h-2zm2 -3h2v5h-2zm0 -20h2v3h-2zm2 11h2v20h-2zm0 -11h2v9h-2zm2 11h2v23h-2zm0 -5h2v3h-2zm2 14h2v14h-2zm2 3h2v8h-2zm2 2h2v3h-2zm2 -8h2v6h-2zm0 -11h2v3h-2zm2 22h2v3h-2zm0 -8h2v5h-2zm0 -20h2v3h-2zm2 28h2v3h-2zm42 -14h2v6h-2zm2 9h2v2h-2zm2 -9h2v3h-2zm2 -3h2v9h-2zm2 6h2v3h-2zm70 11h2v3h-2zm82 -33h2v5h-2zm4 11h2v3h-2z"/>
<path fill="#0000ff" d="M331 530h2v2h-2zm0 -6h2v3h-2zm2 3h2v3h-2zm2 0h2v5h-2zm2 0h2v11h-2zm2 -3h2v17h-2zm2 0h2v20h-2zm2 3h2v19h-2zm2 5h2v14h-2zm2 0h2v14h-2zm2 6h2v11h-2zm2 -8h2v16h-2zm2 8h2v20h-2zm2 3h2v11h-2zm2 8h2v3h-2zm8 -25h2v3h-2zm26 17h2v5h-2zm0 -6h2v3h-2zm2 17h2v3h-2zm0 -8h2v5h-2zm4 -20h2v20h-2zm2 28h2v3h-2zm0 -8h2v5h-2zm10 -20h2v20h-2zm2 14h2v6h-2zm2 -3h2v14h-2zm2 9h2v2h-2zm0 -14h2v8h-2zm4 -6h2v8h-2zm2 3h2v5h-2zm2 -3h2v14h-2zm2 0h2v11h-2zm4 3h2v11h-2zm4 3h2v2h-2zm2 -6h2v17h-2zm2 3h2v17h-2zm2 31h2v2h-2zm0 -17h2v8h-2zm2 3h2v16h-2zm2 -9h2v9h-2zm2 -5h2v22h-2zm2 2h2v26h-2zm2 23h2v3h-2zm0 -9h2v6h-2zm0 -14h2v12h-2zm2 -8h2v36h-2zm0 -6h2v3h-2zm2 0h2v26h-2zm2 6h2v25h-2zm14 0h2v8h-2zm2 8h2v3h-2zm0 -5h2v3h-2zm36 -3h2v6h-2zm6 3h2v3h-2zm2 17h2v5h-2z"/>
</g>
<g>
<path fill="#ffffff" d="M31 839h2v2h-2zm0 -28h2v8h-2zm2 28h2v2h-2zm0 -23h2v9h-2zm2 23h2v2h-2zm0 -20h2v11h-2zm2 20h2v2h-2zm0 -17h2v11h-2zm2 17h2v2h-2zm0 -20h2v11h-2zm2 20h2v2h-2zm0 -17h2v8h-2zm2 17h2v2h-2zm0 -20h2v8h-2zm2 20h2v2h-2zm0 -31h2v8h-2zm2 31h2v2h-2zm0 -28h2v2h-2zm2 -3h2v3h-2zm0 -14h2v8h-2zm2 45h2v2h-2zm0 -45h2v28h-2zm2 45h2v2h-2zm0 -23h2v6h-2zm0 -25h2v22h-2zm2 48h2v2h-2zm0 -20h2v3h-2zm0 -11h2v5h-2zm0 -17h2v14h-2zm2 48h2v2h-2zm0 -20h2v6h-2zm0 -36h2v8h-2zm2 56h2v2h-2zm0 -23h2v6h-2zm0 -28h2v9h-2zm2 51h2v2h-2zm0 -26h2v9h-2zm0 -25h2v11h-2zm2 51h2v2h-2zm0 -20h2v3h-2zm0 -31h2v9h-2zm2 51h2v2h-2zm0 -26h2v12h-2zm0 -11h2v6h-2zm0 -17h2v9h-2zm2 54h2v2h-2zm0 -14h2v5h-2zm0 -37h2v9h-2zm2 51h2v2h-2zm0 -23h2v9h-2zm0 -31h2v23h-2zm2 54h2v2h-2zm0 -20h2v6h-2zm0 -22h2v16h-2zm0 -14h2v8h-2zm2 56h2v2h-2zm0 -14h2v2h-2zm0 -6h2v3h-2zm0 -22h2v2h-2zm0 -14h2v8h-2zm2 56h2v2h-2zm0 -56h2v11h-2zm2 56h2v2h-2zm0 -56h2v16h-2zm2 56h2v2h-2zm0 -54h2v17h-2zm2 48h2v8h-2zm0 -8h2v2h-2zm0 -34h2v3h-2zm0 -11h2v8h-2zm2 59h2v2h-2zm0 -56h2v16h-2zm2 53h2v5h-2zm0 -20h2v9h-2zm0 -11h2v6h-2zm0 -28h2v22h-2zm2 48h2v16h-2zm0 -9h2v3h-2zm0 -5h2v2h-2zm0 -12h2v6h-2zm0 -19h2v8h-2zm2 53h2v8h-2zm0 -59h2v9h-2zm2 65h2v2h-2zm0 -56h2v8h-2zm2 56h2v2h-2zm0 -59h2v8h-2zm2 59h2v2h-2zm0 -56h2v5h-2zm2 11h2v14h-2zm0 -11h2v8h-2zm2 56h2v2h-2zm0 -40h2v12h-2zm0 -22h2v8h-2zm2 62h2v2h-2zm0 -54h2v17h-2zm2 54h2v2h-2zm0 -26h2v12h-2zm0 -22h2v17h-2zm2 25h2v3h-2zm0 -14h2v9h-2zm0 -8h2v3h-2zm2 45h2v2h-2zm0 -51h2v11h-2zm2 51h2v2h-2zm0 -26h2v9h-2zm0 -14h2v9h-2zm0 -11h2v9h-2zm2 0h2v11h-2zm2 51h2v2h-2zm0 -42h2v5h-2zm2 42h2v2h-2zm0 -42h2v5h-2zm2 42h2v2h-2zm0 -45h2v11h-2zm2 45h2v2h-2zm0 -48h2v8h-2zm2 48h2v2h-2zm0 -54h2v12h-2zm2 54h2v2h-2zm0 -56h2v5h-2zm2 0h2v8h-2zm2 56h2v2h-2zm0 -51h2v9h-2zm2 51h2v2h-2zm0 -51h2v9h-2zm2 51h2v2h-2zm0 -56h2v8h-2zm2 0h2v8h-2zm2 56h2v2h-2zm0 -54h2v12h-2zm2 54h2v2h-2zm0 -54h2v12h-2zm2 54h2v2h-2zm0 -54h2v9h-2zm2 54h2v2h-2zm0 -48h2v6h-2zm2 48h2v2h-2zm0 -48h2v6h-2zm2 48h2v2h-2zm0 -42h2v5h-2zm2 16h2v9h-2zm0 -19h2v5h-2zm2 -3h2v3h-2zm2 48h2v2h-2zm0 -23h2v6h-2zm0 -28h2v9h-2zm2 51h2v2h-2zm0 -40h2v6h-2zm2 0h2v9h-2zm2 40h2v2h-2zm0 -45h2v5h-2zm0 -6h2v3h-2zm2 51h2v2h-2zm0 -40h2v3h-2zm2 40h2v2h-2zm0 -42h2v5h-2zm2 0h2v5h-2zm2 42h2v2h-2zm0 -37h2v11h-2zm0 -8h2v5h-2zm2 8h2v11h-2zm0 -8h2v3h-2zm2 45h2v2h-2zm0 -31h2v8h-2zm0 -9h2v3h-2zm2 40h2v2h-2zm0 -28h2v5h-2zm0 -12h2v9h-2zm2 6h2v6h-2zm2 34h2v2h-2zm0 -37h2v17h-2zm2 37h2v2h-2zm0 -34h2v3h-2zm2 34h2v2h-2zm0 -37h2v6h-2zm2 37h2v2h-2zm0 -37h2v6h-2zm2 37h2v2h-2zm0 -34h2v3h-2zm2 34h2v2h-2zm0 -42h2v5h-2zm0 -9h2v6h-2zm2 51h2v2h-2zm0 -59h2v5h-2zm2 -6h2v3h-2zm2 65h2v2h-2zm0 -45h2v5h-2zm0 -11h2v2h-2zm2 56h2v2h-2zm0 -40h2v26h-2zm0 -19h2v3h-2zm2 36h2v14h-2zm0 -45h2v6h-2zm2 68h2v2h-2zm0 -59h2v5h-2zm2 59h2v2h-2zm0 -59h2v5h-2zm2 59h2v2h-2zm0 -56h2v8h-2zm2 56h2v2h-2zm0 -59h2v8h-2zm2 59h2v2h-2zm0 -56h2v5h-2zm2 -3h2v8h-2zm2 59h2v2h-2zm0 -59h2v3h-2zm2 33h2v12h-2zm0 -33h2v3h-2zm2 36h2v25h-2zm0 -5h2v2h-2zm0 -31h2v5h-2zm2 45h2v14h-2zm0 -51h2v6h-2zm2 9h2v5h-2zm2 53h2v5h-2zm0 -51h2v6h-2zm2 54h2v2h-2zm0 -51h2v3h-2zm0 -5h2v2h-2zm2 56h2v2h-2zm0 -51h2v3h-2zm2 42h2v9h-2zm0 -5h2v2h-2zm0 -51h2v3h-2zm2 48h2v3h-2zm0 -48h2v3h-2zm2 56h2v9h-2zm0 -22h2v19h-2zm0 -28h2v3h-2zm2 45h2v16h-2zm0 -45h2v5h-2zm2 47h2v12h-2zm0 -44h2v5h-2zm2 -3h2v3h-2zm2 59h2v2h-2zm0 -65h2v3h-2zm2 53h2v14h-2zm0 -47h2v3h-2zm2 59h2v2h-2zm0 -59h2v3h-2zm2 59h2v2h-2zm0 -56h2v5h-2zm2 56h2v2h-2zm0 -59h2v3h-2zm2 59h2v2h-2zm0 -51h2v3h-2zm2 51h2v2h-2zm0 -56h2v2h-2zm2 56h2v2h-2zm0 -62h2v6h-2zm2 62h2v2h-2zm0 -70h2v2h-2zm2 14h2v2h-2zm2 -9h2v6h-2zm2 65h2v2h-2zm0 -65h2v3h-2zm2 -5h2v2h-2zm2 70h2v2h-2zm0 -79h2v3h-2zm2 79h2v2h-2zm0 -56h2v2h-2zm2 56h2v2h-2zm0 -65h2v3h-2zm2 42h2v3h-2zm0 -36h2v3h-2zm2 59h2v2h-2zm0 -62h2v3h-2zm2 62h2v2h-2zm0 -62h2v3h-2zm2 62h2v2h-2zm0 -65h2v11h-2zm0 -19h2v2h-2zm2 84h2v2h-2zm0 -62h2v8h-2zm0 -22h2v2h-2zm2 16h2v3h-2zm2 -5h2v3h-2zm2 0h2v3h-2zm2 3h2v2h-2zm2 5h2v3h-2zm2 65h2v2h-2zm0 -70h2v2h-2zm6 70h2v2h-2zm0 -79h2v3h-2zm2 79h2v2h-2zm0 -79h2v3h-2zm2 79h2v2h-2zm2 0h2v2h-2zm2 0h2v2h-2zm4 0h2v2h-2zm2 0h2v2h-2zm4 0h2v2h-2zm0 -73h2v3h-2zm2 -9h2v3h-2zm2 82h2v2h-2zm0 -73h2v3h-2zm2 73h2v2h-2zm0 -76h2v3h-2zm2 76h2v2h-2zm0 -73h2v3h-2zm2 73h2v2h-2zm0 -76h2v3h-2zm4 76h2v2h-2zm2 0h2v2h-2zm0 -68h2v3h-2zm2 68h2v2h-2zm2 0h2v2h-2zm2 0h2v2h-2zm0 -70h2v2h-2zm2 70h2v2h-2zm0 -68h2v3h-2zm4 68h2v2h-2zm4 0h2v2h-2zm2 0h2v2h-2zm0 -73h2v3h-2zm0 -9h2v6h-2zm2 9h2v3h-2zm2 0h2v3h-2zm2 73h2v2h-2zm2 0h2v2h-2zm0 -70h2v2h-2zm2 70h2v2h-2zm2 0h2v2h-2zm2 0h2v2h-2zm0 -73h2v3h-2zm2 73h2v2h-2zm2 0h2v2h-2zm2 0h2v2h-2zm2 0h2v2h-2zm0 -70h2v2h-2zm2 70h2v2h-2zm2 0h2v2h-2zm4 0h2v2h-2zm2 0h2v2h-2zm0 -73h2v3h-2zm2 3h2v2h-2zm2 70h2v2h-2zm2 -70h2v2h-2zm2 70h2v2h-2zm0 -68h2v3h-2zm2 -2h2v2h-2zm2 70h2v2h-2zm2 0h2v2h-2zm0 -70h2v2h-2zm2 2h2v3h-2zm2 68h2v2h-2zm6 0h2v2h-2zm4 -70h2v2h-2zm18 70h2v2h-2zm10 -68h2v3h-2zm2 6h2v3h-2zm4 6h2v2h-2zm2 56h2v2h-2zm0 -51h2v3h-2zm2 -8h2v3h-2zm2 8h2v3h-2zm4 -17h2v3h-2zm2 0h2v3h-2zm4 68h2v2h-2zm0 -70h2v2h-2zm6 5h2v3h-2zm2 65h2v2h-2zm2 0h2v2h-2zm0 -62h2v3h-2zm2 -8h2v2h-2zm16 70h2v2h-2zm8 0h2v2h-2zm0 -68h2v3h-2zm2 3h2v3h-2zm0 -8h2v5h-2zm2 14h2v3h-2zm6 0h2v3h-2zm2 59h2v2h-2zm0 -70h2v2h-2zm2 0h2v2h-2zm2 70h2v2h-2zm0 -68h2v3h-2zm2 0h2v3h-2zm6 68h2v2h-2zm2 -59h2v3h-2zm2 59h2v2h-2zm2 0h2v2h-2zm2 -62h2v3h-2zm2 -3h2v3h-2zm2 6h2v3h-2zm6 0h2v3h-2zm2 -3h2v3h-2zm2 62h2v2h-2zm4 0h2v2h-2zm22 0h2v2h-2zm0 -70h2v2h-2zm2 14h2v2h-2zm2 56h2v2h-2zm0 -59h2v3h-2zm2 -9h2v3h-2zm2 68h2v2h-2zm0 -65h2v3h-2zm2 0h2v3h-2zm4 -5h2v2h-2zm2 8h2v3h-2zm4 62h2v2h-2zm2 -56h2v2h-2zm2 -6h2v3h-2zm2 -6h2v3h-2zm2 6h2v3h-2zm2 -11h2v3h-2zm2 73h2v2h-2zm0 -65h2v3h-2zm2 65h2v2h-2zm0 -56h2v2h-2zm2 5h2v3h-2zm2 51h2v2h-2zm0 -62h2v3h-2zm2 3h2v5h-2zm2 -6h2v3h-2zm2 3h2v3h-2zm2 3h2v3h-2zm4 0h2v3h-2zm2 5h2v3h-2zm2 0h2v3h-2zm2 3h2v3h-2zm2 51h2v2h-2zm0 -42h2v2h-2zm4 -12h2v3h-2zm2 9h2v3h-2zm4 45h2v2h-2zm0 -62h2v3h-2zm2 62h2v2h-2zm0 -62h2v3h-2zm2 -3h2v3h-2zm2 65h2v2h-2zm0 -54h2v3h-2zm2 -5h2v3h-2zm2 0h2v5h-2zm2 8h2v3h-2zm2 51h2v2h-2zm0 -68h2v6h-2zm2 68h2v2h-2zm2 -65h2v3h-2zm2 65h2v2h-2zm0 -56h2v2h-2zm2 5h2v3h-2zm0 -5h2v2h-2zm2 8h2v3h-2zm4 -6h2v3h-2zm2 3h2v3h-2zm2 -3h2v3h-2zm2 3h2v3h-2zm2 0h2v3h-2zm0 -8h2v5h-2zm2 59h2v2h-2zm0 -28h2v2h-2zm2 28h2v2h-2zm2 0h2v2h-2zm0 -56h2v5h-2zm4 -12h2v3h-2zm2 6h2v3h-2zm2 62h2v2h-2zm0 -59h2v3h-2zm2 0h2v3h-2zm2 5h2v6h-2zm2 12h2v5h-2zm6 -12h2v3h-2zm2 6h2v3h-2zm2 48h2v2h-2zm0 -56h2v5h-2zm4 5h2v3h-2zm2 51h2v2h-2zm0 -54h2v3h-2zm2 -2h2v5h-2zm2 2h2v6h-2zm2 -2h2v2h-2zm2 0h2v5h-2zm2 -6h2v3h-2zm2 0h2v3h-2zm2 8h2v3h-2zm2 54h2v2h-2zm0 -59h2v3h-2zm2 0h2v3h-2zm2 5h2v3h-2zm2 54h2v2h-2zm0 -68h2v3h-2zm2 -5h2v3h-2zm2 28h2v5h-2zm0 -20h2v17h-2zm2 65h2v2h-2zm0 -65h2v3h-2zm2 65h2v2h-2zm0 -70h2v2h-2zm2 5h2v3h-2zm2 -5h2v5h-2zm2 70h2v2h-2zm0 -68h2v3h-2zm2 -11h2v3h-2zm2 14h2v3h-2zm2 -8h2v3h-2z"/>
<path fill="#0000c8" d="M31 833h2v6h-2zm0 -14h2v8h-2zm2 6h2v14h-2zm2 5h2v9h-2zm2 3h2v6h-2zm2 -3h2v9h-2zm2 0h2v9h-2zm2 6h2v3h-2zm2 -20h2v23h-2zm2 6h2v17h-2zm2 -3h2v22h-2zm2 3h2v17h-2zm2 0h2v17h-2zm0 -9h2v3h-2zm2 9h2v17h-2zm0 -9h2v3h-2zm0 -8h2v3h-2zm2 20h2v14h-2zm0 -34h2v28h-2zm2 45h2v3h-2zm0 -14h2v11h-2zm0 -25h2v19h-2zm2 39h2v3h-2zm0 -14h2v11h-2zm0 -23h2v12h-2zm2 23h2v11h-2zm0 -6h2v3h-2zm0 -17h2v9h-2zm2 26h2v5h-2zm0 -28h2v2h-2zm2 33h2v9h-2zm0 -33h2v28h-2zm2 28h2v2h-2zm0 -17h2v3h-2zm2 17h2v14h-2zm0 -34h2v6h-2zm2 36h2v12h-2zm0 -5h2v3h-2zm0 -17h2v14h-2zm0 -14h2v6h-2zm2 25h2v17h-2zm0 -5h2v2h-2zm0 -9h2v6h-2zm2 -3h2v40h-2zm2 9h2v31h-2zm2 19h2v6h-2zm0 -11h2v9h-2zm0 -14h2v11h-2zm0 -14h2v3h-2zm2 37h2v14h-2zm0 -26h2v12h-2zm2 26h2v11h-2zm0 -14h2v5h-2zm2 8h2v6h-2zm0 -6h2v3h-2zm0 -8h2v6h-2zm0 -17h2v11h-2zm2 25h2v20h-2zm0 -14h2v9h-2zm0 -16h2v14h-2zm2 47h2v9h-2zm0 -5h2v2h-2zm0 -34h2v31h-2zm2 45h2v3h-2zm0 -48h2v17h-2zm2 23h2v14h-2zm0 -17h2v8h-2zm2 45h2v2h-2zm0 -6h2v3h-2zm0 -25h2v17h-2zm0 -17h2v3h-2zm2 28h2v20h-2zm0 -8h2v2h-2zm0 -26h2v14h-2zm2 17h2v37h-2zm2 28h2v3h-2zm0 -5h2v2h-2zm2 -6h2v22h-2zm0 -8h2v5h-2zm2 -12h2v40h-2zm2 34h2v6h-2zm0 -11h2v5h-2zm0 -25h2v2h-2zm2 30h2v14h-2zm0 -22h2v14h-2zm0 -6h2v3h-2zm2 12h2v14h-2zm2 19h2v9h-2zm0 -5h2v2h-2zm0 -9h2v6h-2zm0 -5h2v2h-2zm2 -6h2v8h-2zm2 -6h2v17h-2zm2 31h2v9h-2zm0 -33h2v30h-2zm2 28h2v14h-2zm0 -17h2v5h-2zm0 -20h2v11h-2zm2 51h2v2h-2zm0 -28h2v14h-2zm0 -12h2v3h-2zm0 -8h2v3h-2zm2 39h2v6h-2zm0 -33h2v22h-2zm2 0h2v5h-2zm2 -6h2v6h-2zm2 48h2v2h-2zm0 -48h2v6h-2zm2 6h2v2h-2zm2 0h2v5h-2zm2 -3h2v8h-2zm2 19h2v9h-2zm0 -5h2v3h-2zm0 -11h2v8h-2zm2 8h2v14h-2zm0 -8h2v5h-2zm2 36h2v3h-2zm0 -31h2v28h-2zm2 20h2v19h-2zm0 -20h2v11h-2zm2 9h2v30h-2zm0 -17h2v8h-2zm2 28h2v3h-2zm0 -17h2v11h-2zm0 -8h2v2h-2zm2 28h2v14h-2zm0 -9h2v6h-2zm0 -11h2v6h-2zm2 34h2v2h-2zm0 -31h2v5h-2zm2 -9h2v26h-2zm2 3h2v37h-2zm2 0h2v37h-2zm2 31h2v8h-2zm0 -8h2v2h-2zm0 -23h2v20h-2zm2 34h2v3h-2zm0 -23h2v12h-2zm0 -14h2v3h-2zm2 31h2v11h-2zm0 -17h2v14h-2zm0 -16h2v5h-2zm2 36h2v6h-2zm0 -17h2v14h-2zm2 0h2v23h-2zm0 -8h2v3h-2zm2 25h2v8h-2zm0 -8h2v2h-2zm0 -14h2v11h-2zm2 8h2v6h-2zm2 -11h2v31h-2zm2 25h2v6h-2zm0 -25h2v17h-2zm2 28h2v3h-2zm0 -6h2v3h-2zm0 -5h2v2h-2zm0 -17h2v11h-2zm2 25h2v6h-2zm0 -25h2v17h-2zm2 17h2v14h-2zm0 -23h2v6h-2zm2 28h2v3h-2zm0 -14h2v9h-2zm0 -22h2v17h-2zm0 -9h2v6h-2zm2 28h2v28h-2zm0 -11h2v9h-2zm0 -25h2v17h-2zm2 22h2v37h-2zm0 -14h2v9h-2zm0 -5h2v3h-2zm2 45h2v14h-2zm0 -42h2v16h-2zm2 47h2v11h-2zm0 -31h2v17h-2zm0 -22h2v6h-2zm2 31h2v31h-2zm0 -14h2v8h-2zm0 -9h2v3h-2zm2 23h2v31h-2zm0 -6h2v3h-2zm0 -17h2v6h-2zm2 17h2v37h-2zm0 -11h2v6h-2zm2 34h2v14h-2zm0 -37h2v9h-2zm2 0h2v6h-2zm2 51h2v2h-2zm0 -23h2v9h-2zm0 -28h2v6h-2zm2 37h2v14h-2zm0 -42h2v16h-2zm2 53h2v5h-2zm0 -9h2v6h-2zm0 -44h2v30h-2zm2 30h2v3h-2zm0 -14h2v12h-2zm0 -14h2v6h-2zm2 54h2v2h-2zm0 -26h2v12h-2zm0 -33h2v5h-2zm2 25h2v36h-2zm0 -17h2v6h-2zm2 17h2v31h-2zm0 -14h2v6h-2zm2 31h2v17h-2zm0 -14h2v3h-2zm0 -17h2v6h-2zm2 0h2v48h-2zm2 48h2v2h-2zm0 -12h2v3h-2zm0 -22h2v20h-2zm0 -28h2v25h-2zm2 48h2v16h-2zm0 -48h2v45h-2zm2 62h2v2h-2zm0 -12h2v3h-2zm0 -44h2v25h-2zm2 16h2v26h-2zm0 -14h2v6h-2zm2 54h2v2h-2zm0 -26h2v14h-2zm0 -25h2v9h-2zm2 37h2v16h-2zm0 -42h2v11h-2zm2 16h2v40h-2zm0 -22h2v17h-2zm2 6h2v44h-2zm2 11h2v45h-2zm0 -11h2v8h-2zm2 39h2v17h-2zm0 -9h2v3h-2zm0 -14h2v9h-2zm0 -11h2v9h-2zm2 37h2v14h-2zm0 -42h2v8h-2zm2 8h2v8h-2zm2 28h2v20h-2zm0 -20h2v3h-2zm0 -5h2v3h-2zm2 28h2v17h-2zm0 -39h2v5h-2zm2 50h2v6h-2zm0 -62h2v28h-2zm2 68h2v2h-2zm0 -20h2v6h-2zm0 -8h2v2h-2zm0 -26h2v6h-2zm2 40h2v16h-2zm0 -45h2v8h-2zm2 53h2v6h-2zm0 -6h2v3h-2zm0 -50h2v8h-2zm2 62h2v2h-2zm0 -48h2v3h-2zm0 -8h2v5h-2zm0 -12h2v6h-2zm2 9h2v14h-2zm0 -17h2v11h-2zm2 42h2v34h-2zm0 -20h2v9h-2zm2 -8h2v62h-2zm2 42h2v22h-2zm0 -20h2v17h-2zm0 -8h2v3h-2zm0 -8h2v2h-2zm2 42h2v14h-2zm0 -9h2v6h-2zm0 -5h2v2h-2zm2 -6h2v17h-2zm0 -25h2v3h-2zm2 28h2v17h-2zm0 -23h2v14h-2zm0 -28h2v17h-2zm2 79h2v3h-2zm0 -51h2v40h-2zm0 -16h2v8h-2zm0 -12h2v9h-2zm2 45h2v39h-2zm0 -28h2v14h-2zm2 51h2v16h-2zm0 -9h2v3h-2zm0 -47h2v22h-2zm2 70h2v2h-2zm0 -20h2v3h-2zm0 -8h2v2h-2zm0 -42h2v25h-2zm2 61h2v11h-2zm0 -8h2v3h-2zm0 -11h2v8h-2zm0 -40h2v14h-2zm2 54h2v16h-2zm0 -48h2v8h-2zm2 56h2v3h-2zm0 -62h2v6h-2zm2 68h2v2h-2zm0 -68h2v6h-2zm2 68h2v2h-2zm0 -73h2v5h-2zm2 70h2v3h-2zm0 -73h2v6h-2zm2 67h2v9h-2zm0 -67h2v8h-2zm2 70h2v6h-2zm0 -76h2v9h-2zm2 3h2v6h-2zm2 9h2v5h-2zm2 70h2v2h-2zm0 -76h2v6h-2zm2 64h2v12h-2zm0 -61h2v8h-2zm2 61h2v12h-2zm0 -61h2v8h-2zm2 64h2v11h-2zm0 -70h2v6h-2zm2 70h2v9h-2zm0 -61h2v5h-2zm2 61h2v11h-2zm0 -70h2v9h-2zm2 70h2v9h-2zm0 -61h2v11h-2zm2 64h2v3h-2zm0 -67h2v11h-2zm2 3h2v11h-2zm2 -3h2v8h-2zm2 73h2v2h-2zm0 -76h2v11h-2zm2 11h2v9h-2zm2 0h2v9h-2zm2 6h2v8h-2zm2 -9h2v9h-2zm2 0h2v6h-2zm2 3h2v9h-2zm2 65h2v2h-2zm0 -73h2v11h-2zm2 -11h2v5h-2zm2 84h2v2h-2zm0 -82h2v9h-2zm2 9h2v8h-2zm2 3h2v2h-2zm2 70h2v2h-2zm0 -70h2v8h-2zm2 70h2v2h-2zm0 -68h2v6h-2zm2 0h2v9h-2zm2 0h2v6h-2zm2 -2h2v2h-2zm2 0h2v2h-2zm2 0h2v5h-2zm2 5h2v11h-2zm2 -3h2v6h-2zm2 -2h2v5h-2zm2 2h2v6h-2zm2 -2h2v2h-2zm2 2h2v3h-2zm2 68h2v2h-2zm0 -62h2v6h-2zm2 -8h2v8h-2zm2 0h2v5h-2zm2 70h2v2h-2zm0 -68h2v9h-2zm2 -5h2v8h-2zm2 73h2v2h-2zm0 -68h2v6h-2zm2 3h2v9h-2zm2 65h2v2h-2zm0 -68h2v9h-2zm4 0h2v3h-2zm2 68h2v2h-2zm0 -65h2v6h-2zm2 62h2v3h-2zm0 -62h2v3h-2zm2 65h2v2h-2zm0 -76h2v3h-2zm2 76h2v2h-2zm0 -65h2v3h-2zm2 62h2v3h-2zm0 -67h2v2h-2zm2 70h2v2h-2zm0 -62h2v3h-2zm2 62h2v2h-2zm0 -68h2v3h-2zm2 68h2v2h-2zm0 -62h2v8h-2zm2 62h2v2h-2zm0 -54h2v9h-2zm2 54h2v2h-2zm0 -59h2v5h-2zm2 59h2v2h-2zm0 -65h2v3h-2zm2 65h2v2h-2zm0 -73h2v5h-2zm2 73h2v2h-2zm0 -70h2v5h-2zm2 70h2v2h-2zm0 -62h2v6h-2zm2 62h2v2h-2zm0 -65h2v6h-2zm2 62h2v3h-2zm0 -62h2v3h-2zm2 65h2v2h-2zm0 -68h2v6h-2zm2 68h2v2h-2zm0 -59h2v3h-2zm2 59h2v2h-2zm0 -65h2v3h-2zm2 65h2v2h-2zm0 -65h2v6h-2zm2 65h2v2h-2zm0 -65h2v6h-2zm2 65h2v2h-2zm0 -59h2v8h-2zm2 59h2v2h-2zm0 -59h2v3h-2zm2 59h2v2h-2zm0 -54h2v6h-2zm2 51h2v3h-2zm0 -45h2v6h-2zm2 48h2v2h-2zm0 -56h2v5h-2zm2 56h2v2h-2zm0 -48h2v6h-2zm2 48h2v2h-2zm0 -54h2v6h-2zm2 54h2v2h-2zm0 -65h2v6h-2zm2 65h2v2h-2zm0 -65h2v6h-2zm2 65h2v2h-2zm0 -65h2v6h-2zm2 62h2v3h-2zm0 -65h2v6h-2zm2 68h2v2h-2zm0 -62h2v6h-2zm2 62h2v2h-2zm0 -68h2v6h-2zm2 68h2v2h-2zm0 -62h2v6h-2zm2 59h2v3h-2zm0 -62h2v6h-2zm2 62h2v3h-2zm0 -56h2v5h-2zm2 59h2v2h-2zm0 -68h2v9h-2zm2 68h2v2h-2zm0 -65h2v6h-2zm2 65h2v2h-2zm0 -68h2v9h-2zm2 68h2v2h-2zm0 -62h2v6h-2zm2 62h2v2h-2zm0 -62h2v6h-2zm2 62h2v2h-2zm0 -68h2v6h-2zm2 68h2v2h-2zm0 -76h2v3h-2zm2 76h2v2h-2zm0 -65h2v6h-2zm2 62h2v3h-2zm0 -70h2v8h-2zm2 73h2v2h-2zm0 -73h2v5h-2zm2 73h2v2h-2zm0 -76h2v6h-2zm2 76h2v2h-2zm0 -70h2v5h-2zm2 67h2v3h-2zm0 -62h2v6h-2zm2 65h2v2h-2zm0 -62h2v8h-2zm2 62h2v2h-2zm0 -56h2v5h-2zm2 56h2v2h-2zm0 -68h2v6h-2zm2 68h2v2h-2zm0 -62h2v6h-2zm2 62h2v2h-2zm0 -56h2v5h-2zm2 53h2v3h-2zm0 -65h2v9h-2zm2 68h2v2h-2zm0 -68h2v6h-2zm2 65h2v3h-2zm0 -62h2v6h-2zm2 65h2v2h-2zm0 -62h2v8h-2zm2 62h2v2h-2zm0 -68h2v6h-2zm2 68h2v2h-2zm0 -62h2v6h-2zm2 59h2v3h-2zm0 -56h2v5h-2zm2 59h2v2h-2zm0 -56h2v5h-2zm2 53h2v3h-2zm0 -59h2v6h-2zm2 59h2v3h-2zm0 -62h2v6h-2zm2 65h2v2h-2zm0 -59h2v5h-2zm2 59h2v2h-2zm0 -62h2v6h-2zm2 62h2v2h-2zm0 -56h2v5h-2zm2 56h2v2h-2zm0 -54h2v3h-2zm2 54h2v2h-2zm0 -62h2v3h-2zm2 62h2v2h-2zm0 -56h2v5h-2zm2 56h2v2h-2zm0 -6h2v3h-2zm0 -53h2v5h-2zm2 56h2v3h-2zm0 -59h2v6h-2zm2 62h2v2h-2zm0 -59h2v5h-2zm2 56h2v3h-2zm0 -62h2v3h-2zm2 65h2v2h-2zm0 -54h2v3h-2zm2 54h2v2h-2zm0 -51h2v6h-2zm2 48h2v5h-2zm0 -56h2v5h-2zm2 59h2v2h-2zm0 -59h2v5h-2zm2 59h2v2h-2zm0 -48h2v6h-2zm2 48h2v2h-2zm0 -62h2v6h-2zm2 62h2v2h-2zm0 -62h2v6h-2zm2 62h2v2h-2zm0 -62h2v6h-2zm2 62h2v2h-2zm0 -65h2v6h-2zm2 65h2v2h-2zm0 -62h2v8h-2zm2 56h2v6h-2zm0 -62h2v12h-2zm2 68h2v2h-2zm0 -6h2v3h-2zm0 -48h2v6h-2zm2 51h2v3h-2zm0 -53h2v14h-2zm2 56h2v2h-2zm0 -65h2v6h-2zm2 62h2v3h-2zm0 -59h2v11h-2zm2 62h2v2h-2zm0 -62h2v11h-2zm2 62h2v2h-2zm0 -68h2v9h-2zm2 68h2v2h-2zm0 -65h2v17h-2zm2 65h2v2h-2zm0 -59h2v19h-2zm2 56h2v5h-2zm0 -65h2v9h-2zm2 6h2v8h-2zm2 62h2v2h-2zm0 -54h2v14h-2zm2 54h2v2h-2zm0 -59h2v14h-2zm2 59h2v2h-2zm0 -65h2v14h-2zm2 65h2v2h-2zm0 -59h2v11h-2zm2 59h2v2h-2zm0 -70h2v8h-2zm2 67h2v3h-2zm0 -59h2v17h-2zm2 59h2v3h-2zm0 -37h2v3h-2zm0 -14h2v9h-2zm2 54h2v2h-2zm0 -48h2v11h-2zm2 45h2v3h-2zm0 -56h2v19h-2zm2 59h2v2h-2zm0 -54h2v17h-2zm2 54h2v2h-2zm0 -62h2v17h-2zm2 62h2v2h-2zm0 -59h2v14h-2zm2 59h2v2h-2zm0 -56h2v14h-2zm2 56h2v2h-2zm0 -65h2v9h-2zm2 65h2v2h-2zm0 -56h2v11h-2zm2 56h2v2h-2zm0 -51h2v9h-2zm2 51h2v2h-2zm0 -51h2v9h-2zm2 51h2v2h-2zm0 -45h2v5h-2zm2 42h2v3h-2zm0 -37h2v14h-2zm2 40h2v2h-2zm0 -42h2v8h-2zm2 42h2v2h-2zm0 -51h2v20h-2zm2 51h2v2h-2zm0 -42h2v19h-2zm2 42h2v2h-2zm0 -28h2v14h-2zm0 -14h2v5h-2zm2 39h2v3h-2zm0 -11h2v8h-2zm0 -45h2v11h-2zm2 56h2v3h-2zm0 -17h2v3h-2zm0 -39h2v17h-2zm2 59h2v2h-2zm0 -14h2v2h-2zm0 -48h2v17h-2zm2 59h2v3h-2zm0 -48h2v17h-2zm2 51h2v2h-2zm0 -56h2v19h-2zm2 56h2v2h-2zm0 -54h2v14h-2zm2 54h2v2h-2zm0 -48h2v17h-2zm2 45h2v3h-2zm0 -56h2v8h-2zm2 56h2v3h-2zm0 -56h2v8h-2zm2 50h2v11h-2zm0 -53h2v8h-2zm2 59h2v3h-2zm0 -51h2v9h-2zm2 54h2v2h-2zm0 -48h2v8h-2zm2 48h2v2h-2zm0 -40h2v6h-2zm0 -5h2v3h-2zm2 45h2v2h-2zm0 -34h2v11h-2zm2 34h2v2h-2zm2 0h2v2h-2zm0 -48h2v20h-2zm2 48h2v2h-2zm0 -42h2v2h-2zm0 -9h2v3h-2zm2 51h2v2h-2zm0 -37h2v9h-2zm0 -11h2v6h-2zm2 48h2v2h-2zm0 -48h2v6h-2zm2 45h2v3h-2zm0 -23h2v12h-2zm2 23h2v3h-2zm0 -14h2v3h-2zm0 -17h2v8h-2zm2 28h2v6h-2zm0 -8h2v5h-2zm0 -37h2v14h-2zm2 51h2v2h-2zm0 -40h2v3h-2zm0 -22h2v8h-2zm2 62h2v2h-2zm0 -20h2v6h-2zm0 -45h2v9h-2zm2 51h2v16h-2zm0 -45h2v17h-2zm2 47h2v12h-2zm0 -44h2v14h-2zm2 56h2v2h-2zm0 -56h2v11h-2zm2 56h2v2h-2zm0 -48h2v8h-2zm2 48h2v2h-2zm0 -9h2v6h-2zm0 -28h2v17h-2zm2 37h2v2h-2zm0 -48h2v11h-2zm2 48h2v2h-2zm0 -45h2v19h-2zm2 45h2v2h-2zm0 -40h2v6h-2zm0 -11h2v3h-2zm2 51h2v2h-2zm0 -45h2v8h-2zm2 42h2v3h-2zm0 -48h2v11h-2zm2 51h2v2h-2zm0 -40h2v9h-2zm0 -8h2v6h-2zm2 48h2v2h-2zm0 -48h2v8h-2zm2 45h2v3h-2zm0 -48h2v14h-2zm2 51h2v2h-2zm0 -51h2v17h-2zm2 51h2v2h-2zm0 -48h2v17h-2zm2 48h2v2h-2zm0 -17h2v3h-2zm0 -6h2v3h-2zm0 -5h2v2h-2zm0 -26h2v23h-2zm2 3h2v53h-2zm2 23h2v30h-2zm0 -31h2v25h-2zm2 59h2v2h-2zm0 -31h2v17h-2zm0 -28h2v19h-2zm2 8h2v53h-2zm2 -5h2v56h-2zm2 0h2v58h-2zm2 5h2v53h-2zm2 -14h2v65h-2zm2 51h2v16h-2zm0 -14h2v5h-2zm0 -42h2v39h-2zm2 58h2v14h-2zm0 -28h2v26h-2zm0 -8h2v3h-2zm2 8h2v40h-2zm0 -22h2v17h-2zm2 48h2v14h-2zm0 -54h2v20h-2zm2 68h2v2h-2zm0 -62h2v11h-2zm2 62h2v2h-2zm0 -65h2v25h-2zm2 62h2v3h-2zm0 -62h2v14h-2zm2 65h2v2h-2zm0 -76h2v17h-2zm2 76h2v2h-2zm0 -62h2v20h-2zm2 62h2v2h-2zm0 -70h2v22h-2z"/>
<path fill="#00c0ff" d="M31 827h2v6h-2zm28 6h2v3h-2zm2 0h2v3h-2zm2 0h2v6h-2zm2 -3h2v9h-2zm4 -3h2v12h-2zm22 0h2v3h-2zm0 -5h2v3h-2zm2 0h2v14h-2zm2 3h2v14h-2zm2 11h2v3h-2zm0 -11h2v8h-2zm6 8h2v6h-2zm0 -6h2v3h-2zm6 0h2v6h-2zm4 -2h2v14h-2zm2 2h2v3h-2zm0 -5h2v3h-2zm2 -9h2v26h-2zm2 17h2v9h-2zm2 -3h2v3h-2zm2 -14h2v12h-2zm0 -14h2v9h-2zm2 26h2v14h-2zm0 -31h2v5h-2zm2 42h2v3h-2zm0 -17h2v11h-2zm2 -17h2v37h-2zm2 -5h2v42h-2zm2 25h2v17h-2zm0 -25h2v22h-2zm2 2h2v34h-2zm2 3h2v34h-2zm2 0h2v25h-2zm2 20h2v11h-2zm0 -11h2v2h-2zm0 -6h2v3h-2zm2 31h2v3h-2zm0 -34h2v3h-2zm2 34h2v3h-2zm0 -6h2v3h-2zm2 -31h2v3h-2zm2 3h2v9h-2zm2 23h2v14h-2zm0 -26h2v6h-2zm2 23h2v3h-2zm0 -11h2v5h-2zm2 2h2v26h-2zm2 12h2v14h-2zm6 2h2v6h-2zm0 -5h2v3h-2zm2 3h2v11h-2zm2 2h2v3h-2zm2 3h2v3h-2zm4 -3h2v6h-2zm0 -5h2v3h-2zm2 3h2v14h-2zm4 0h2v8h-2zm2 8h2v3h-2zm0 -6h2v3h-2zm0 -8h2v6h-2zm2 6h2v8h-2zm2 -17h2v17h-2zm2 25h2v6h-2zm0 -8h2v5h-2zm0 -14h2v5h-2zm0 -20h2v3h-2zm2 20h2v2h-2zm2 25h2v3h-2zm4 -53h2v16h-2zm2 19h2v6h-2zm0 -14h2v6h-2zm2 17h2v3h-2zm0 -14h2v11h-2zm2 6h2v5h-2zm2 0h2v28h-2zm2 -3h2v45h-2zm2 31h2v14h-2zm0 -31h2v22h-2zm2 5h2v26h-2zm2 34h2v3h-2zm0 -8h2v2h-2zm2 -34h2v8h-2zm2 -6h2v28h-2zm2 9h2v11h-2zm2 3h2v8h-2zm2 0h2v11h-2zm4 5h2v3h-2zm6 -11h2v8h-2zm2 6h2v5h-2zm2 2h2v26h-2zm2 -5h2v5h-2zm4 -3h2v3h-2zm2 25h2v6h-2zm0 -8h2v5h-2zm0 -11h2v2h-2zm2 -6h2v34h-2zm2 8h2v40h-2zm2 3h2v17h-2zm0 -5h2v2h-2zm2 -9h2v34h-2zm2 11h2v34h-2zm2 26h2v14h-2zm0 -12h2v6h-2zm0 -22h2v20h-2zm2 -3h2v37h-2zm2 42h2v3h-2zm0 -14h2v11h-2zm0 -31h2v20h-2zm2 9h2v45h-2zm0 -6h2v3h-2zm0 -11h2v6h-2zm2 17h2v45h-2zm0 -20h2v6h-2zm8 48h2v3h-2zm0 -9h2v3h-2zm0 -14h2v12h-2zm2 23h2v17h-2zm0 -23h2v6h-2zm2 34h2v6h-2zm0 -8h2v2h-2zm0 -26h2v9h-2zm2 26h2v11h-2zm0 -59h2v3h-2zm2 22h2v14h-2zm2 31h2v6h-2zm0 -28h2v17h-2zm2 31h2v17h-2zm0 -9h2v6h-2zm0 -5h2v3h-2zm0 -14h2v11h-2zm2 31h2v5h-2zm0 -6h2v3h-2zm0 -34h2v26h-2zm2 0h2v40h-2zm2 51h2v3h-2zm0 -28h2v25h-2zm0 -6h2v3h-2zm0 -25h2v22h-2zm2 36h2v26h-2zm0 -36h2v34h-2zm2 -6h2v68h-2zm2 -2h2v61h-2zm2 50h2v11h-2zm0 -31h2v28h-2zm0 -5h2v2h-2zm0 -12h2v6h-2zm2 51h2v11h-2zm0 -23h2v3h-2zm0 -5h2v3h-2zm0 -14h2v5h-2zm0 -14h2v11h-2zm2 56h2v17h-2zm0 -23h2v3h-2zm0 -14h2v12h-2zm0 -19h2v8h-2zm2 56h2v17h-2zm0 -48h2v25h-2zm2 56h2v9h-2zm0 -14h2v3h-2zm0 -5h2v2h-2zm0 -42h2v39h-2zm2 42h2v16h-2zm0 -37h2v34h-2zm2 45h2v8h-2zm0 -11h2v3h-2zm0 -25h2v22h-2zm0 -9h2v6h-2zm2 45h2v11h-2zm0 -6h2v3h-2zm0 -5h2v3h-2zm0 -6h2v3h-2zm0 -17h2v14h-2zm0 -19h2v11h-2zm2 53h2v11h-2zm0 -8h2v2h-2zm0 -28h2v16h-2zm0 -9h2v3h-2zm2 42h2v14h-2zm0 -11h2v8h-2zm0 -36h2v8h-2zm2 56h2v5h-2zm0 -45h2v8h-2zm2 56h2v3h-2zm0 -11h2v8h-2zm0 -48h2v8h-2zm2 50h2v12h-2zm0 -47h2v8h-2zm2 50h2v9h-2zm0 -56h2v6h-2zm2 53h2v12h-2zm0 -53h2v9h-2zm2 51h2v14h-2zm0 -42h2v5h-2zm2 44h2v12h-2zm0 -5h2v3h-2zm0 -39h2v8h-2zm2 42h2v14h-2zm0 -37h2v6h-2zm2 42h2v9h-2zm0 -50h2v5h-2zm2 47h2v12h-2zm0 -50h2v6h-2zm2 50h2v12h-2zm0 -44h2v8h-2zm2 44h2v12h-2zm0 -50h2v6h-2zm2 56h2v6h-2zm0 -64h2v2h-2zm0 -9h2v6h-2zm2 20h2v17h-2zm0 -6h2v3h-2zm0 -8h2v3h-2zm2 8h2v3h-2zm2 -3h2v26h-2zm2 28h2v3h-2zm0 -22h2v8h-2zm2 0h2v6h-2zm2 3h2v5h-2zm2 -3h2v3h-2zm2 -6h2v28h-2zm2 40h2v8h-2zm0 -12h2v3h-2zm0 -28h2v26h-2zm2 51h2v3h-2zm0 -6h2v3h-2zm0 -5h2v2h-2zm0 -37h2v6h-2zm2 11h2v9h-2zm2 -8h2v17h-2zm2 11h2v3h-2zm0 -8h2v5h-2zm0 -6h2v3h-2zm2 53h2v12h-2zm0 -39h2v3h-2zm0 -11h2v3h-2zm2 48h2v2h-2zm0 -54h2v28h-2zm2 48h2v6h-2zm0 -34h2v17h-2zm0 -11h2v9h-2zm2 45h2v20h-2zm0 -20h2v9h-2zm0 -16h2v2h-2zm2 42h2v14h-2zm0 -34h2v3h-2zm0 -14h2v6h-2zm2 -3h2v6h-2zm2 6h2v8h-2zm2 -6h2v6h-2zm2 28h2v3h-2zm0 -25h2v8h-2zm2 6h2v11h-2zm2 -3h2v11h-2zm2 8h2v11h-2zm0 -5h2v2h-2zm0 -6h2v3h-2zm0 -6h2v3h-2zm2 31h2v3h-2zm0 -28h2v9h-2zm2 6h2v11h-2zm2 -3h2v8h-2zm2 14h2v3h-2zm0 -25h2v19h-2zm2 11h2v11h-2zm2 11h2v3h-2zm0 -17h2v14h-2zm2 65h2v3h-2zm0 -56h2v8h-2zm2 56h2v3h-2zm0 -62h2v11h-2zm2 59h2v6h-2zm0 -48h2v14h-2zm2 9h2v19h-2zm2 -9h2v26h-2zm2 -8h2v11h-2zm2 -6h2v9h-2zm2 59h2v9h-2zm0 -56h2v9h-2zm2 9h2v16h-2zm2 -3h2v14h-2zm2 -3h2v6h-2zm2 0h2v17h-2zm2 22h2v3h-2zm0 -16h2v8h-2zm2 -6h2v14h-2zm2 3h2v17h-2zm2 0h2v17h-2zm2 8h2v11h-2zm2 11h2v9h-2zm0 -16h2v8h-2zm2 8h2v8h-2zm2 6h2v11h-2zm2 -9h2v17h-2zm2 9h2v8h-2zm2 -6h2v14h-2zm2 -11h2v17h-2zm2 0h2v14h-2zm2 0h2v8h-2zm2 -3h2v8h-2zm2 6h2v8h-2zm2 -6h2v8h-2zm2 53h2v9h-2zm0 -47h2v11h-2zm2 47h2v6h-2zm0 -50h2v11h-2zm2 5h2v14h-2zm2 48h2v3h-2zm0 -53h2v14h-2zm2 19h2v3h-2zm0 -19h2v14h-2zm2 0h2v11h-2zm2 53h2v6h-2zm0 -50h2v11h-2zm2 47h2v9h-2zm0 -47h2v11h-2zm2 47h2v9h-2zm0 -53h2v11h-2zm2 53h2v9h-2zm0 -22h2v3h-2zm0 -42h2v14h-2zm2 64h2v9h-2zm0 -50h2v11h-2zm2 53h2v3h-2zm0 -25h2v5h-2zm0 -34h2v17h-2zm2 56h2v9h-2zm0 -59h2v20h-2zm2 59h2v9h-2zm0 -61h2v16h-2zm2 64h2v6h-2zm0 -59h2v17h-2zm2 56h2v6h-2zm0 -50h2v19h-2zm2 50h2v9h-2zm0 -45h2v20h-2zm2 51h2v3h-2zm0 -48h2v23h-2zm2 48h2v3h-2zm0 -59h2v14h-2zm2 53h2v9h-2zm0 -47h2v14h-2zm2 47h2v9h-2zm0 -42h2v14h-2zm2 42h2v6h-2zm0 -50h2v19h-2zm2 50h2v9h-2zm0 -53h2v17h-2zm2 3h2v19h-2zm2 53h2v6h-2zm0 -48h2v20h-2zm2 51h2v3h-2zm0 -37h2v3h-2zm0 -22h2v11h-2zm2 59h2v3h-2zm0 -53h2v11h-2zm2 47h2v6h-2zm0 -45h2v14h-2zm2 45h2v9h-2zm0 -42h2v11h-2zm2 45h2v3h-2zm0 -50h2v11h-2zm2 50h2v3h-2zm0 -53h2v17h-2zm2 53h2v6h-2zm0 -48h2v14h-2zm2 48h2v6h-2zm0 -50h2v16h-2zm2 5h2v17h-2zm2 48h2v3h-2zm0 -37h2v3h-2zm0 -11h2v9h-2zm2 45h2v6h-2zm0 -20h2v3h-2zm0 -33h2v22h-2zm2 50h2v9h-2zm0 -14h2v3h-2zm0 -14h2v11h-2zm0 -14h2v11h-2zm2 48h2v3h-2zm0 -9h2v6h-2zm0 -28h2v3h-2zm0 -14h2v12h-2zm2 48h2v3h-2zm0 -50h2v8h-2zm2 50h2v6h-2zm0 -28h2v14h-2zm0 -20h2v12h-2zm2 45h2v6h-2zm0 -11h2v3h-2zm0 -6h2v3h-2zm0 -36h2v14h-2zm2 50h2v12h-2zm0 -14h2v6h-2zm0 -8h2v6h-2zm0 -17h2v6h-2zm2 42h2v9h-2zm0 -28h2v23h-2zm0 -8h2v5h-2zm2 31h2v11h-2zm0 -14h2v5h-2zm0 -6h2v3h-2zm0 -8h2v2h-2zm0 -12h2v9h-2zm2 45h2v9h-2zm0 -33h2v28h-2zm0 -12h2v9h-2zm2 40h2v14h-2zm0 -6h2v3h-2zm0 -22h2v19h-2zm2 33h2v9h-2zm0 -25h2v3h-2zm0 -22h2v16h-2zm2 50h2v6h-2zm0 -22h2v2h-2zm0 -12h2v9h-2zm0 -16h2v14h-2zm2 44h2v12h-2zm0 -14h2v3h-2zm0 -30h2v28h-2zm2 50h2v6h-2zm0 -8h2v2h-2zm0 -12h2v3h-2zm0 -33h2v19h-2zm2 39h2v20h-2zm0 -34h2v31h-2zm2 34h2v14h-2zm0 -14h2v6h-2zm0 -22h2v16h-2zm2 53h2v3h-2zm0 -11h2v8h-2zm0 -34h2v28h-2zm2 36h2v3h-2zm0 -8h2v3h-2zm0 -22h2v11h-2zm2 28h2v14h-2zm0 -26h2v12h-2zm0 -19h2v17h-2zm2 53h2v3h-2zm0 -22h2v14h-2zm0 -6h2v3h-2zm0 -17h2v11h-2zm2 31h2v20h-2zm0 -31h2v20h-2zm2 39h2v12h-2zm0 -8h2v3h-2zm0 -39h2v19h-2zm2 50h2v9h-2zm0 -11h2v6h-2zm0 -28h2v8h-2zm2 20h2v28h-2zm0 -12h2v6h-2zm2 26h2v11h-2zm0 -45h2v31h-2zm2 5h2v14h-2zm2 45h2v9h-2zm0 -31h2v6h-2zm2 28h2v12h-2zm0 -33h2v14h-2zm2 36h2v9h-2zm0 -42h2v14h-2zm2 48h2v3h-2zm0 -45h2v20h-2zm2 39h2v9h-2zm0 -11h2v3h-2zm0 -42h2v36h-2zm2 17h2v42h-2zm2 8h2v34h-2zm0 -8h2v5h-2zm2 42h2v3h-2zm0 -34h2v31h-2zm2 -3h2v37h-2zm2 3h2v34h-2zm2 23h2v14h-2zm0 -31h2v25h-2zm2 22h2v9h-2zm0 -22h2v19h-2zm2 33h2v12h-2zm0 -30h2v19h-2zm2 33h2v9h-2zm0 -47h2v30h-2zm2 47h2v9h-2zm0 -36h2v22h-2zm2 36h2v9h-2zm0 -33h2v22h-2zm2 33h2v9h-2zm0 -33h2v25h-2zm2 33h2v9h-2zm0 -5h2v2h-2zm0 -26h2v23h-2zm2 14h2v23h-2zm2 20h2v6h-2zm0 -28h2v25h-2zm2 3h2v31h-2zm2 8h2v23h-2zm2 9h2v14h-2zm0 -23h2v9h-2zm2 31h2v3h-2zm0 -34h2v26h-2zm2 23h2v14h-2zm0 -25h2v22h-2zm2 30h2v12h-2zm0 -33h2v31h-2zm2 11h2v31h-2zm2 22h2v12h-2zm0 -25h2v20h-2zm2 -3h2v40h-2zm2 9h2v31h-2zm2 5h2v23h-2zm0 -25h2v17h-2zm2 0h2v48h-2zm2 31h2v11h-2zm0 -34h2v20h-2zm2 34h2v17h-2zm0 -25h2v11h-2zm2 31h2v14h-2zm0 -17h2v5h-2zm2 28h2v3h-2zm0 -31h2v8h-2zm2 25h2v9h-2zm0 -14h2v9h-2zm2 9h2v2h-2zm0 -17h2v11h-2zm2 3h2v14h-2zm2 -12h2v26h-2zm2 12h2v25h-2zm2 -3h2v22h-2zm2 17h2v11h-2zm2 0h2v11h-2zm0 -12h2v9h-2zm2 17h2v3h-2zm0 -28h2v23h-2zm2 0h2v37h-2zm0 -17h2v14h-2zm2 40h2v14h-2zm0 -42h2v36h-2zm2 14h2v28h-2zm2 0h2v30h-2zm2 -3h2v45h-2zm2 5h2v40h-2zm2 37h2v3h-2zm0 -17h2v11h-2zm2 3h2v17h-2zm0 -20h2v14h-2zm2 11h2v26h-2zm2 14h2v12h-2zm0 -22h2v11h-2zm0 -8h2v2h-2zm2 30h2v12h-2zm0 -5h2v3h-2zm0 -20h2v14h-2zm2 23h2v11h-2zm0 -26h2v17h-2zm2 28h2v12h-2zm0 -19h2v14h-2zm0 -11h2v2h-2zm2 36h2v6h-2zm0 -34h2v26h-2zm2 3h2v34h-2zm2 3h2v34h-2zm2 3h2v31h-2zm2 17h2v14h-2zm0 -6h2v3h-2zm0 -6h2v3h-2zm0 -5h2v3h-2zm4 -3h2v6h-2zm2 20h2v14h-2zm12 -9h2v9h-2zm0 -8h2v3h-2zm2 17h2v2h-2zm2 -31h2v5h-2zm2 -3h2v34h-2zm2 22h2v26h-2zm0 -11h2v9h-2zm2 23h2v14h-2zm0 -9h2v6h-2zm0 -17h2v12h-2zm2 28h2v9h-2zm0 -39h2v31h-2zm2 45h2v6h-2zm0 -20h2v14h-2zm0 -33h2v14h-2zm2 36h2v23h-2zm0 -19h2v11h-2zm2 22h2v20h-2zm0 -28h2v11h-2z"/>
<path fill="#00ffff" d="M119 827h2v3h-2zm16 6h2v6h-2zm2 3h2v3h-2zm2 -9h2v12h-2zm2 6h2v6h-2zm118 -28h2v11h-2zm38 11h2v3h-2zm0 -31h2v3h-2zm0 -8h2v6h-2zm2 25h2v20h-2zm0 -5h2v2h-2zm0 -12h2v9h-2zm0 -8h2v3h-2zm2 25h2v20h-2zm0 -5h2v2h-2zm0 -23h2v11h-2zm2 25h2v23h-2zm2 14h2v3h-2zm0 -5h2v3h-2zm2 0h2v3h-2zm2 3h2v8h-2zm0 -6h2v3h-2zm0 -25h2v3h-2zm2 36h2v3h-2zm0 -5h2v2h-2zm0 -6h2v3h-2zm0 -6h2v3h-2zm0 -22h2v8h-2zm2 36h2v6h-2zm0 -14h2v12h-2zm0 -22h2v6h-2zm2 36h2v3h-2zm0 -36h2v28h-2zm2 11h2v37h-2zm2 -3h2v40h-2zm2 3h2v39h-2zm2 -8h2v50h-2zm2 3h2v44h-2zm2 5h2v37h-2zm2 37h2v2h-2zm0 -34h2v31h-2zm2 25h2v9h-2zm0 -8h2v3h-2zm0 -14h2v11h-2zm2 17h2v19h-2zm0 -26h2v20h-2zm2 34h2v8h-2zm0 -36h2v25h-2zm2 36h2v8h-2zm0 -28h2v17h-2zm2 31h2v5h-2zm0 -39h2v19h-2zm2 42h2v8h-2zm0 -31h2v11h-2zm0 -23h2v14h-2zm0 -5h2v3h-2zm2 61h2v12h-2zm0 -30h2v11h-2zm0 -20h2v3h-2zm0 -8h2v5h-2zm2 58h2v12h-2zm0 -50h2v36h-2zm2 50h2v12h-2zm0 -30h2v16h-2zm2 36h2v6h-2zm0 -31h2v17h-2zm0 -17h2v14h-2zm2 42h2v12h-2zm0 -44h2v28h-2zm2 2h2v34h-2zm2 51h2v3h-2zm0 -56h2v42h-2zm2 53h2v6h-2zm0 -34h2v31h-2zm2 20h2v20h-2zm0 -17h2v9h-2zm0 -5h2v2h-2zm2 28h2v14h-2zm0 -6h2v3h-2zm0 -6h2v3h-2zm0 -33h2v31h-2zm2 14h2v45h-2zm2 14h2v31h-2zm0 -14h2v11h-2zm2 -3h2v48h-2zm0 -6h2v3h-2zm0 -8h2v3h-2zm2 14h2v36h-2zm0 -11h2v8h-2zm2 47h2v12h-2zm0 -28h2v26h-2zm2 26h2v14h-2zm0 -23h2v17h-2zm0 -19h2v2h-2zm2 25h2v11h-2zm0 -23h2v14h-2zm2 9h2v31h-2zm0 -11h2v8h-2zm2 -3h2v59h-2zm2 8h2v51h-2zm2 -8h2v59h-2zm2 25h2v34h-2zm0 -20h2v17h-2zm2 9h2v45h-2zm2 -3h2v48h-2zm2 39h2v9h-2zm0 -11h2v3h-2zm0 -20h2v14h-2zm0 -14h2v3h-2zm0 -5h2v3h-2zm0 -6h2v3h-2zm2 62h2v3h-2zm0 -31h2v20h-2zm0 -22h2v19h-2zm2 8h2v48h-2zm2 34h2v11h-2zm0 -40h2v20h-2zm2 51h2v3h-2zm0 -6h2v3h-2zm0 -36h2v31h-2zm0 -9h2v6h-2zm2 3h2v51h-2zm2 3h2v45h-2zm0 -6h2v3h-2zm2 3h2v48h-2zm2 -3h2v51h-2zm2 40h2v8h-2zm0 -26h2v6h-2zm2 26h2v14h-2zm0 -12h2v6h-2zm2 17h2v9h-2zm0 -19h2v5h-2zm2 16h2v12h-2zm0 -8h2v6h-2zm0 -31h2v23h-2zm2 -8h2v59h-2zm2 33h2v17h-2zm0 -30h2v22h-2zm2 30h2v26h-2zm0 -14h2v9h-2zm2 20h2v20h-2zm0 -25h2v11h-2zm2 22h2v20h-2zm0 -33h2v22h-2zm2 11h2v45h-2zm2 25h2v20h-2zm0 -17h2v6h-2zm0 -11h2v8h-2zm2 0h2v48h-2zm2 22h2v26h-2zm0 -16h2v14h-2zm2 25h2v17h-2zm0 -25h2v8h-2zm2 28h2v11h-2zm0 -26h2v9h-2zm2 31h2v9h-2zm0 -39h2v8h-2zm2 8h2v26h-2zm2 26h2v11h-2zm0 -17h2v8h-2zm2 28h2v3h-2zm0 -31h2v6h-2zm2 0h2v8h-2zm2 28h2v3h-2zm0 -28h2v8h-2zm2 -3h2v3h-2zm0 -5h2v2h-2zm2 28h2v14h-2zm0 -31h2v5h-2zm2 36h2v9h-2zm0 -42h2v17h-2zm2 45h2v3h-2zm0 -48h2v45h-2zm2 6h2v48h-2zm2 -6h2v54h-2zm2 9h2v36h-2zm2 -3h2v39h-2zm2 8h2v37h-2zm2 37h2v3h-2zm0 -23h2v20h-2zm0 -19h2v11h-2zm2 42h2v3h-2zm0 -20h2v17h-2zm0 -5h2v2h-2zm0 -9h2v6h-2zm0 -8h2v5h-2zm2 -3h2v48h-2zm2 3h2v39h-2zm2 0h2v36h-2zm2 -6h2v42h-2zm2 23h2v19h-2zm0 -20h2v17h-2zm2 0h2v39h-2zm2 22h2v20h-2zm0 -22h2v17h-2zm2 0h2v39h-2zm2 -6h2v45h-2zm2 6h2v42h-2zm2 8h2v31h-2zm2 6h2v25h-2zm2 6h2v25h-2zm2 -20h2v45h-2zm2 6h2v33h-2zm2 5h2v28h-2zm2 -3h2v31h-2zm2 12h2v19h-2zm0 -17h2v11h-2zm2 5h2v37h-2zm2 6h2v28h-2zm2 6h2v25h-2zm0 -9h2v6h-2zm0 -14h2v11h-2zm2 42h2v6h-2zm0 -36h2v31h-2zm2 5h2v31h-2zm2 0h2v31h-2zm2 -5h2v39h-2zm2 3h2v36h-2zm2 2h2v34h-2zm2 0h2v34h-2zm2 6h2v34h-2zm2 -3h2v34h-2zm0 -5h2v2h-2zm2 19h2v17h-2zm0 -14h2v11h-2zm2 17h2v11h-2zm0 -6h2v3h-2zm0 -14h2v3h-2zm2 3h2v25h-2zm0 -5h2v2h-2zm2 -6h2v42h-2zm2 28h2v14h-2zm0 -22h2v8h-2zm2 25h2v8h-2zm0 -6h2v3h-2zm0 -25h2v22h-2zm2 28h2v8h-2zm0 -8h2v2h-2zm0 -17h2v11h-2zm2 5h2v3h-2zm2 17h2v9h-2zm0 -8h2v3h-2zm0 -9h2v6h-2zm0 -5h2v3h-2zm2 31h2v5h-2zm0 -31h2v3h-2zm2 28h2v3h-2zm0 -6h2v3h-2zm2 -8h2v22h-2zm0 -9h2v6h-2zm2 14h2v20h-2zm0 -5h2v3h-2zm0 -11h2v2h-2zm2 19h2v11h-2zm0 -5h2v2h-2zm2 16h2v6h-2zm0 -11h2v9h-2zm0 -17h2v14h-2zm2 17h2v3h-2zm2 -5h2v8h-2zm0 -12h2v6h-2zm2 20h2v6h-2zm2 11h2v6h-2zm0 -8h2v5h-2zm0 -14h2v11h-2zm2 3h2v14h-2zm0 -14h2v2h-2zm2 28h2v8h-2zm0 -17h2v3h-2zm0 -9h2v6h-2zm2 9h2v11h-2zm2 14h2v5h-2zm0 -23h2v20h-2zm2 26h2v5h-2zm0 -26h2v20h-2zm2 6h2v6h-2zm2 6h2v14h-2zm2 -12h2v34h-2zm2 6h2v25h-2zm2 3h2v19h-2zm2 -6h2v28h-2zm2 9h2v25h-2zm2 11h2v8h-2zm0 -9h2v6h-2zm6 20h2v3h-2zm4 3h2v3h-2zm2 -17h2v6h-2zm2 6h2v14h-2zm0 -12h2v3h-2zm2 3h2v11h-2zm2 -3h2v17h-2zm2 3h2v14h-2zm2 3h2v11h-2zm2 3h2v8h-2zm2 5h2v3h-2zm0 -5h2v3h-2zm4 8h2v3h-2zm22 -25h2v8h-2zm4 0h2v14h-2zm2 0h2v14h-2zm2 8h2v12h-2zm2 0h2v14h-2zm2 12h2v5h-2zm2 2h2v12h-2zm0 -8h2v6h-2zm2 6h2v14h-2zm2 0h2v14h-2zm2 11h2v3h-2zm2 -6h2v9h-2zm22 -14h2v6h-2zm4 0h2v11h-2zm2 9h2v2h-2zm0 -9h2v6h-2zm2 0h2v9h-2zm2 6h2v5h-2zm2 3h2v8h-2zm34 -14h2v2h-2zm2 11h2v3h-2zm0 -11h2v5h-2zm2 8h2v8h-2zm2 8h2v6h-2zm0 -33h2v19h-2zm2 14h2v8h-2zm2 -6h2v17h-2z"/>
<path fill="#00c000" d="M331 811h2v5h-2zm0 -6h2v3h-2zm2 0h2v6h-2zm2 3h2v11h-2zm2 0h2v11h-2zm2 -6h2v20h-2zm2 3h2v20h-2zm2 3h2v19h-2zm2 5h2v14h-2zm2 0h2v14h-2zm2 6h2v14h-2zm2 -8h2v16h-2zm2 8h2v20h-2zm2 3h2v14h-2zm2 8h2v3h-2zm8 -25h2v3h-2zm26 17h2v8h-2zm0 -9h2v6h-2zm2 12h2v11h-2zm4 -20h2v20h-2zm2 28h2v3h-2zm0 -8h2v5h-2zm10 -20h2v20h-2zm2 14h2v6h-2zm2 -3h2v14h-2zm2 9h2v2h-2zm0 -14h2v8h-2zm4 -6h2v8h-2zm2 3h2v5h-2zm2 -3h2v14h-2zm2 0h2v11h-2zm4 3h2v11h-2zm4 3h2v2h-2zm2 -6h2v17h-2zm2 31h2v3h-2zm0 -28h2v17h-2zm2 14h2v8h-2zm2 3h2v14h-2zm2 -9h2v9h-2zm2 -5h2v25h-2zm2 2h2v26h-2zm2 23h2v3h-2zm0 -23h2v20h-2zm2 -8h2v34h-2zm0 -6h2v3h-2zm2 0h2v26h-2zm2 6h2v25h-2zm2 25h2v3h-2zm12 -25h2v8h-2zm2 28h2v3h-2zm0 -20h2v3h-2zm0 -5h2v3h-2zm36 -3h2v6h-2zm6 3h2v3h-2zm2 17h2v5h-2z"/>
</g>
<g fill="#000">
<rect x="30" y="25" width="720" height="1"/>
<rect x="30" y="40" width="720" height="1"/>
<rect x="30" y="120" width="720" height="1"/>
<rect x="30" y="200" width="720" height="1"/>
<rect x="30" y="280" width="720" height="1"/>
<rect x="30" y="25" width="1" height="256"/>
<rect x="210" y="25" width="1" height="256"/>
<rect x="390" y="25" width="1" height="256"/>
<rect x="570" y="25" width="1" height="256"/>
<rect x="749" y="25" width="1" height="256"/>
<rect x="30" y="306" width="720" height="1"/>
<rect x="30" y="321" width="720" height="1"/>
<rect x="30" y="401" width="720" height="1"/>
<rect x="30" y="481" width="720" height="1"/>
<rect x="30" y="561" width="720" height="1"/>
<rect x="30" y="306" width="1" height="256"/>
<rect x="210" y="306" width="1" height="256"/>
<rect x="390" y="306" width="1" height="256"/>
<rect x="570" y="306" width="1" height="256"/>
<rect x="749" y="306" width="1" height="256"/>
<rect x="30" y="587" width="720" height="1"/>
<rect x="30" y="602" width="720" height="1"/>
<rect x="30" y="682" width="720" height="1"/>
<rect x="30" y="762" width="720" height="1"/>
<rect x="30" y="842" width="720" height="1"/>
<rect x="30" y="587" width="1" height="256"/>
<rect x="210" y="587" width="1" height="256"/>
<rect x="390" y="587" width="1" height="256"/>
<rect x="570" y="587" width="1" height="256"/>
<rect x="749" y="587" width="1" height="256"/>
</g>
<rect x="784" y="78" width="31" height="13" fill="#ff00ff"/>
<rect x="784" y="91" width="31" height="14" fill="#ff0000"/>
<rect x="784" y="105" width="31" height="13" fill="#ff8000"/>
<rect x="784" y="118" width="31" height="14" fill="#ffff00"/>
<rect x="784" y="132" width="31" height="14" fill="#80ff00"/>
<rect x="784" y="146" width="31" height="13" fill="#00c000"/>
<rect x="784" y="159" width="31" height="14" fill="#00ffff"/>
<rect x="784" y="173" width="31" height="14" fill="#0080ff"/>
<rect x="784" y="187" width="31" height="13" fill="#0000ff"/>
<rect x="784" y="214" width="31" height="14" fill="#e0e0e0"/>
<rect x="784" y="359" width="31" height="9" fill="#000000"/>
<rect x="784" y="368" width="31" height="9" fill="#580058"/>
<rect x="784" y="377" width="31" height="10" fill="#b000b0"/>
<rect x="784" y="387" width="31" height="9" fill="#ff00ff"/>
<rect x="784" y="396" width="31" height="9" fill="#ff0070"/>
<rect x="784" y="405" width="31" height="10" fill="#ff0000"/>
<rect x="784" y="415" width="31" height="9" fill="#ff8000"/>
<rect x="784" y="424" width="31" height="10" fill="#ffff00"/>
<rect x="784" y="434" width="31" height="9" fill="#80ff40"/>
<rect x="784" y="443" width="31" height="9" fill="#00c000"/>
<rect x="784" y="452" width="31" height="10" fill="#0000ff"/>
<rect x="784" y="462" width="31" height="9" fill="#0080ff"/>
<rect x="784" y="471" width="31" height="9" fill="#00ffff"/>
<rect x="784" y="480" width="31" height="10" fill="#80ffff"/>
<rect x="784" y="499" width="31" height="10" fill="#e0e0e0"/>
<rect x="784" y="640" width="31" height="12" fill="#a040a0"/>
<rect x="784" y="652" width="31" height="13" fill="#e000e0"/>
<rect x="784" y="665" width="31" height="12" fill="#a000a0"/>
<rect x="784" y="677" width="31" height="13" fill="#ff0000"/>
<rect x="784" y="690" width="31" height="12" fill="#ff8000"/>
<rect x="784" y="702" width="31" height="13" fill="#ffff00"/>
<rect x="784" y="715" width="31" height="12" fill="#00c000"/>
<rect x="784" y="727" width="31" height="13" fill="#00ffff"/>
<rect x="784" y="740" width="31" height="12" fill="#00c0ff"/>
<rect x="784" y="752" width="31" height="13" fill="#0000c8"/>
<rect x="784" y="777" width="31" height="13" fill="#e0e0e0"/>
</svg>
<svg width="0" height="0" style="position:absolute"><defs><filter id="thr" x="0" y="0" width="100%" height="100%" color-interpolation-filters="sRGB"><feComponentTransfer><feFuncA type="discrete" tableValues="0 0 1 1 1"/></feComponentTransfer></filter><filter id="thr2" x="0" y="0" width="100%" height="100%" color-interpolation-filters="sRGB"><feComponentTransfer><feFuncA type="discrete" tableValues="0 1 1"/></feComponentTransfer></filter></defs></svg>
<div id="tx">
<div class="t ttl" style="left:240.2px;top:0.8px;letter-spacing:0px;">2020</div>
<div class="t ttl" style="left:305.0px;top:0.8px;letter-spacing:0px;">02</div>
<div class="t ttl" style="left:345.2px;top:0.8px;letter-spacing:0px;">09</div>
<div class="t ttl" style="left:385.4px;top:0.8px;letter-spacing:0.45px;">11:00</div>
<div class="t ttl" style="left:455.4px;top:0.8px;letter-spacing:0.45px;">12:00</div>
<div class="t ttl" style="left:516.8px;top:0.8px;letter-spacing:-0.6px;">UTC</div>
<div class="dash" style="left:292px;"></div>
<div class="dash" style="left:332px;"></div>
<div class="dash" style="left:444px;"></div>
<div class="t yl" style="left:0.2px;top:160px;letter-spacing:-0.1px;">Fall Velocity</div>
<div class="t yl" style="left:0.2px;top:441px;letter-spacing:-0.25px;">Rain Intensity</div>
<div class="t yl" style="left:0.2px;top:722px;letter-spacing:-0.65px;">Reflectivity</div>
<div class="t a" style="left:753.0px;top:36px;"><span class="i">3 km</span></div>
<div class="t a" style="left:753.0px;top:115px;"><span class="i">2 km</span></div>
<div class="t a" style="left:753.0px;top:196px;"><span class="i">1 km</span></div>
<div class="t a" style="left:753.0px;top:274px;"><span class="i">0 km</span></div>
<div class="t a" style="left:753.0px;top:314px;"><span class="i">3 km</span></div>
<div class="t a" style="left:753.0px;top:393px;"><span class="i">2 km</span></div>
<div class="t a" style="left:753.0px;top:476px;"><span class="i">1 km</span></div>
<div class="t a" style="left:753.0px;top:554px;"><span class="i">0 km</span></div>
<div class="t a" style="left:753.0px;top:596px;"><span class="i">3 km</span></div>
<div class="t a" style="left:753.0px;top:675px;"><span class="i">2 km</span></div>
<div class="t a" style="left:753.0px;top:756px;"><span class="i">1 km</span></div>
<div class="t a" style="left:753.0px;top:834px;"><span class="i">0 km</span></div>
<div class="t a" style="left:16.125px;top:283px;"><span class="i">11:00</span></div>
<div class="t a" style="left:196.125px;top:283px;"><span class="i">11:15</span></div>
<div class="t a" style="left:376.25px;top:283px;"><span class="i">11:30</span></div>
<div class="t a" style="left:556.875px;top:283px;"><span class="i">11:45</span></div>
<div class="t a" style="left:736.125px;top:283px;"><span class="i">12:00</span></div>
<div class="t a" style="left:16.125px;top:563px;"><span class="i">11:00</span></div>
<div class="t a" style="left:196.125px;top:563px;"><span class="i">11:15</span></div>
<div class="t a" style="left:376.25px;top:563px;"><span class="i">11:30</span></div>
<div class="t a" style="left:556.875px;top:563px;"><span class="i">11:45</span></div>
<div class="t a" style="left:736.125px;top:563px;"><span class="i">12:00</span></div>
<div class="t a" style="left:16.125px;top:843px;"><span class="i">11:00</span></div>
<div class="t a" style="left:196.125px;top:843px;"><span class="i">11:15</span></div>
<div class="t a" style="left:376.25px;top:843px;"><span class="i">11:30</span></div>
<div class="t a" style="left:556.875px;top:843px;"><span class="i">11:45</span></div>
<div class="t a" style="left:736.125px;top:843px;"><span class="i">12:00</span></div>
<div class="t s" style="left:817.375px;top:84px;"><span class="i">8.0</span></div>
<div class="t s" style="left:817.125px;top:98px;"><span class="i">7.0</span></div>
<div class="t s" style="left:817.125px;top:112px;"><span class="i">6.0</span></div>
<div class="t s" style="left:817.625px;top:126px;"><span class="i">5.0</span></div>
<div class="t s" style="left:817.125px;top:140px;"><span class="i">4.0</span></div>
<div class="t s" style="left:817.625px;top:154px;"><span class="i">3.0</span></div>
<div class="t s" style="left:817.625px;top:168px;"><span class="i">2.0</span></div>
<div class="t s" style="left:817.375px;top:182px;"><span class="i">1.0</span></div>
<div class="t s" style="left:817.125px;top:195px;"><span class="i">0.0</span></div>
<div class="t s" style="left:817.75px;top:209px;letter-spacing:0.6px;"><span class="i">miss</span></div>
<div class="t s" style="left:800.75px;top:66px;"><span class="i">m/s</span></div>
<div class="t s" style="left:817.375px;top:359px;"><span class="i">48.0</span></div>
<div class="t s" style="left:817.375px;top:379px;"><span class="i">12.0</span></div>
<div class="t s" style="left:817.125px;top:398px;"><span class="i">6.0</span></div>
<div class="t s" style="left:817.625px;top:417px;"><span class="i">3.0</span></div>
<div class="t s" style="left:817.375px;top:437px;"><span class="i">1.5</span></div>
<div class="t s" style="left:817.625px;top:457px;"><span class="i">0.5</span></div>
<div class="t s" style="left:817.375px;top:474px;"><span class="i">0.1</span></div>
<div class="t s" style="left:817.125px;top:485px;"><span class="i">0.0</span></div>
<div class="t s" style="left:817.75px;top:493px;letter-spacing:0.6px;"><span class="i">miss</span></div>
<div class="t s" style="left:800.75px;top:346px;"><span class="i">mm/hr</span></div>
<div class="t s" style="left:819.125px;top:647px;"><span class="i">40.0</span></div>
<div class="t s" style="left:818.625px;top:659px;"><span class="i">35.0</span></div>
<div class="t s" style="left:819.125px;top:672px;"><span class="i">30.0</span></div>
<div class="t s" style="left:818.625px;top:685px;"><span class="i">25.0</span></div>
<div class="t s" style="left:819.125px;top:696px;"><span class="i">20.0</span></div>
<div class="t s" style="left:818.375px;top:709px;"><span class="i">15.0</span></div>
<div class="t s" style="left:818.375px;top:723px;"><span class="i">10.0</span></div>
<div class="t s" style="left:818.625px;top:734px;"><span class="i">5.0</span></div>
<div class="t s" style="left:819.125px;top:748px;"><span class="i">0.0</span></div>
<div class="t s" style="left:818.625px;top:759px;"><span class="i">–5.0</span></div>
<div class="t s" style="left:818.0px;top:769px;letter-spacing:0.35px;"><span class="i">none</span></div>
<div class="t s" style="left:800.625px;top:626px;"><span class="i">dBZ</span></div>
</div>
</body></html>
